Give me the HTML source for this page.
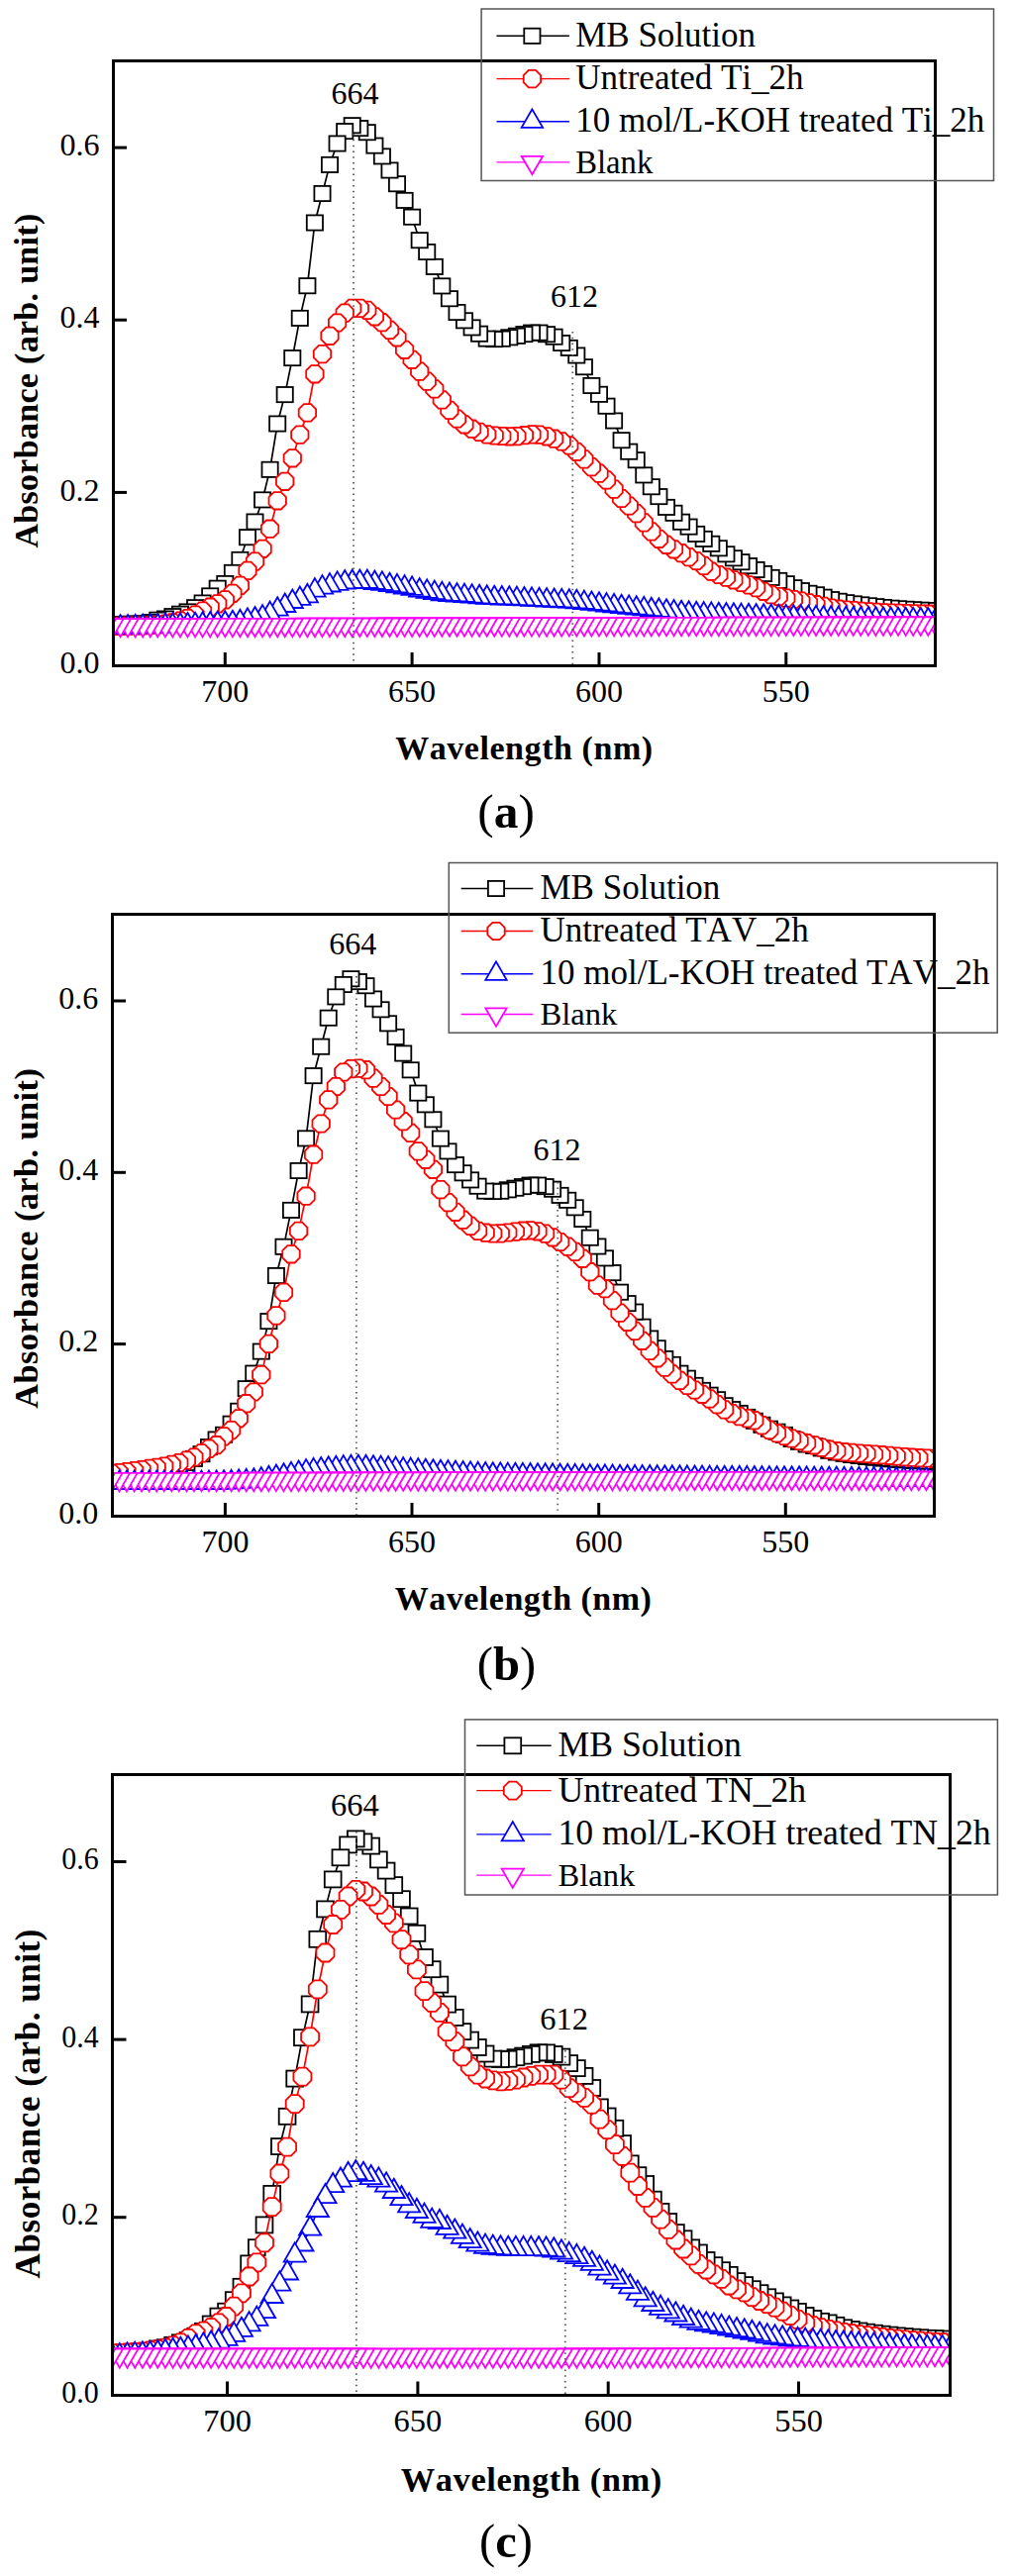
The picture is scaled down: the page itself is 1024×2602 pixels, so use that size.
<!DOCTYPE html>
<html><head><meta charset="utf-8"><title>Absorbance spectra</title>
<style>html,body{margin:0;padding:0;background:#fff;width:1024px;height:2602px;overflow:hidden}svg{display:block;font-family:"Liberation Serif",serif}text{font-kerning:none;font-feature-settings:"kern" 0,"liga" 0}</style></head>
<body>
<svg width="1024" height="2602" viewBox="0 0 1024 2602" font-family='"Liberation Serif", serif'>
<rect width="1024" height="2602" fill="#fff"/>
<clipPath id="clipa"><rect x="116" y="63" width="827" height="608"/></clipPath>
<g clip-path="url(#clipa)">
<polyline fill="none" stroke="#000000" stroke-width="1.7" points="967.5,617.6 960,617.4 952.4,617.1 944.9,616.8 937.3,616.5 929.8,616.2 922.2,615.8 914.7,615.3 907.1,614.8 899.6,614.2 892,613.5 884.4,612.7 876.9,611.8 869.3,610.9 861.8,609.9 854.2,608.7 846.7,607.3 839.1,605.6 831.6,603.2 824,600.8 816.5,599.3 808.9,596.6 801.4,593.7 793.8,589.7 786.3,586.4 778.7,583.4 771.1,579.5 763.6,575.5 756,571.6 748.5,567.7 740.9,563.8 733.4,559.8 725.8,553.8 718.3,549.3 710.7,544.4 703.2,539.4 695.6,532.1 688.1,527.2 680.5,518.3 673,512.4 665.4,501.6 657.8,491.7 650.3,479.9 642.7,464.7 635.2,456.2 627.6,444.7 620.1,425 612.5,410.2 605,398.3 597.4,389.5 589.9,370.7 582.3,359 574.8,351.4 567.2,346.5 559.6,340.2 552.1,337.7 544.5,336.1 537,336.1 529.4,337.6 521.9,339.3 514.3,340.8 506.8,342.2 499.2,342.6 491.7,342.1 484.1,337.2 476.6,330.9 469,323.8 461.5,315.5 453.9,301.7 446.3,288.9 438.8,269.4 431.2,254.5 423.7,242.7 416.1,219.2 408.6,202.4 401,185.7 393.5,172 385.9,157.9 378.4,147.1 370.8,133.7 363.3,129.6 355.7,126.7 348.2,132.6 340.6,145 333,166.4 325.5,195.5 317.9,225 310.4,288.7 302.8,321.4 295.3,361.6 287.7,398.6 280.2,428 272.6,474.3 265.1,504.9 257.5,527 250,542.7 242.4,565.4 234.9,578.4 227.3,589.5 219.7,594.2 212.2,601.9 204.6,609 197.1,613.7 189.5,617.9 182,620.2 174.4,622.6 166.9,625 159.3,626.2 151.8,628.5 144.2,629.8 136.7,630 129.1,630.2 121.6,630.5 114,630.6 106.4,630.6 98.9,630.6 91.3,630.6"/>
<g fill="#fff" stroke="#000000" stroke-width="1.8" stroke-linejoin="miter">
<rect x="959.4" y="610" width="16.2" height="15.2"/>
<rect x="951.9" y="609.8" width="16.2" height="15.2"/>
<rect x="944.3" y="609.5" width="16.2" height="15.2"/>
<rect x="936.8" y="609.2" width="16.2" height="15.2"/>
<rect x="929.2" y="608.9" width="16.2" height="15.2"/>
<rect x="921.7" y="608.6" width="16.2" height="15.2"/>
<rect x="914.1" y="608.2" width="16.2" height="15.2"/>
<rect x="906.6" y="607.7" width="16.2" height="15.2"/>
<rect x="899" y="607.2" width="16.2" height="15.2"/>
<rect x="891.5" y="606.6" width="16.2" height="15.2"/>
<rect x="883.9" y="605.9" width="16.2" height="15.2"/>
<rect x="876.3" y="605.1" width="16.2" height="15.2"/>
<rect x="868.8" y="604.2" width="16.2" height="15.2"/>
<rect x="861.2" y="603.3" width="16.2" height="15.2"/>
<rect x="853.7" y="602.3" width="16.2" height="15.2"/>
<rect x="846.1" y="601.1" width="16.2" height="15.2"/>
<rect x="838.6" y="599.7" width="16.2" height="15.2"/>
<rect x="831" y="598" width="16.2" height="15.2"/>
<rect x="823.5" y="595.6" width="16.2" height="15.2"/>
<rect x="815.9" y="593.2" width="16.2" height="15.2"/>
<rect x="808.4" y="591.7" width="16.2" height="15.2"/>
<rect x="800.8" y="589" width="16.2" height="15.2"/>
<rect x="793.3" y="586.1" width="16.2" height="15.2"/>
<rect x="785.7" y="582.1" width="16.2" height="15.2"/>
<rect x="778.2" y="578.8" width="16.2" height="15.2"/>
<rect x="770.6" y="575.8" width="16.2" height="15.2"/>
<rect x="763" y="571.9" width="16.2" height="15.2"/>
<rect x="755.5" y="567.9" width="16.2" height="15.2"/>
<rect x="747.9" y="564" width="16.2" height="15.2"/>
<rect x="740.4" y="560.1" width="16.2" height="15.2"/>
<rect x="732.8" y="556.2" width="16.2" height="15.2"/>
<rect x="725.3" y="552.2" width="16.2" height="15.2"/>
<rect x="717.7" y="546.2" width="16.2" height="15.2"/>
<rect x="710.2" y="541.7" width="16.2" height="15.2"/>
<rect x="702.6" y="536.8" width="16.2" height="15.2"/>
<rect x="695.1" y="531.8" width="16.2" height="15.2"/>
<rect x="687.5" y="524.5" width="16.2" height="15.2"/>
<rect x="680" y="519.6" width="16.2" height="15.2"/>
<rect x="672.4" y="510.7" width="16.2" height="15.2"/>
<rect x="664.9" y="504.8" width="16.2" height="15.2"/>
<rect x="657.3" y="494" width="16.2" height="15.2"/>
<rect x="649.7" y="484.1" width="16.2" height="15.2"/>
<rect x="642.2" y="472.3" width="16.2" height="15.2"/>
<rect x="634.6" y="457.1" width="16.2" height="15.2"/>
<rect x="627.1" y="448.6" width="16.2" height="15.2"/>
<rect x="619.5" y="437.1" width="16.2" height="15.2"/>
<rect x="612" y="417.4" width="16.2" height="15.2"/>
<rect x="604.4" y="402.6" width="16.2" height="15.2"/>
<rect x="596.9" y="390.7" width="16.2" height="15.2"/>
<rect x="589.3" y="381.9" width="16.2" height="15.2"/>
<rect x="581.8" y="363.1" width="16.2" height="15.2"/>
<rect x="574.2" y="351.4" width="16.2" height="15.2"/>
<rect x="566.7" y="343.8" width="16.2" height="15.2"/>
<rect x="559.1" y="338.9" width="16.2" height="15.2"/>
<rect x="551.5" y="332.6" width="16.2" height="15.2"/>
<rect x="544" y="330.1" width="16.2" height="15.2"/>
<rect x="536.4" y="328.5" width="16.2" height="15.2"/>
<rect x="528.9" y="328.5" width="16.2" height="15.2"/>
<rect x="521.3" y="330" width="16.2" height="15.2"/>
<rect x="513.8" y="331.7" width="16.2" height="15.2"/>
<rect x="506.2" y="333.2" width="16.2" height="15.2"/>
<rect x="498.7" y="334.6" width="16.2" height="15.2"/>
<rect x="491.1" y="335" width="16.2" height="15.2"/>
<rect x="483.6" y="334.5" width="16.2" height="15.2"/>
<rect x="476" y="329.6" width="16.2" height="15.2"/>
<rect x="468.5" y="323.3" width="16.2" height="15.2"/>
<rect x="460.9" y="316.2" width="16.2" height="15.2"/>
<rect x="453.4" y="307.9" width="16.2" height="15.2"/>
<rect x="445.8" y="294.1" width="16.2" height="15.2"/>
<rect x="438.2" y="281.3" width="16.2" height="15.2"/>
<rect x="430.7" y="261.8" width="16.2" height="15.2"/>
<rect x="423.1" y="246.9" width="16.2" height="15.2"/>
<rect x="415.6" y="235.1" width="16.2" height="15.2"/>
<rect x="408" y="211.6" width="16.2" height="15.2"/>
<rect x="400.5" y="194.8" width="16.2" height="15.2"/>
<rect x="392.9" y="178.1" width="16.2" height="15.2"/>
<rect x="385.4" y="164.4" width="16.2" height="15.2"/>
<rect x="377.8" y="150.3" width="16.2" height="15.2"/>
<rect x="370.3" y="139.5" width="16.2" height="15.2"/>
<rect x="362.7" y="126.1" width="16.2" height="15.2"/>
<rect x="355.2" y="122" width="16.2" height="15.2"/>
<rect x="347.6" y="119.1" width="16.2" height="15.2"/>
<rect x="340.1" y="125" width="16.2" height="15.2"/>
<rect x="332.5" y="137.4" width="16.2" height="15.2"/>
<rect x="324.9" y="158.8" width="16.2" height="15.2"/>
<rect x="317.4" y="187.9" width="16.2" height="15.2"/>
<rect x="309.8" y="217.4" width="16.2" height="15.2"/>
<rect x="302.3" y="281.1" width="16.2" height="15.2"/>
<rect x="294.7" y="313.8" width="16.2" height="15.2"/>
<rect x="287.2" y="354" width="16.2" height="15.2"/>
<rect x="279.6" y="391" width="16.2" height="15.2"/>
<rect x="272.1" y="420.4" width="16.2" height="15.2"/>
<rect x="264.5" y="466.7" width="16.2" height="15.2"/>
<rect x="257" y="497.3" width="16.2" height="15.2"/>
<rect x="249.4" y="519.4" width="16.2" height="15.2"/>
<rect x="241.9" y="535.1" width="16.2" height="15.2"/>
<rect x="234.3" y="557.8" width="16.2" height="15.2"/>
<rect x="226.8" y="570.8" width="16.2" height="15.2"/>
<rect x="219.2" y="581.9" width="16.2" height="15.2"/>
<rect x="211.6" y="586.6" width="16.2" height="15.2"/>
<rect x="204.1" y="594.3" width="16.2" height="15.2"/>
<rect x="196.5" y="601.4" width="16.2" height="15.2"/>
<rect x="189" y="606.1" width="16.2" height="15.2"/>
<rect x="181.4" y="610.3" width="16.2" height="15.2"/>
<rect x="173.9" y="612.6" width="16.2" height="15.2"/>
<rect x="166.3" y="615" width="16.2" height="15.2"/>
<rect x="158.8" y="617.4" width="16.2" height="15.2"/>
<rect x="151.2" y="618.6" width="16.2" height="15.2"/>
<rect x="143.7" y="620.9" width="16.2" height="15.2"/>
<rect x="136.1" y="622.2" width="16.2" height="15.2"/>
<rect x="128.6" y="622.4" width="16.2" height="15.2"/>
<rect x="121" y="622.6" width="16.2" height="15.2"/>
<rect x="113.5" y="622.9" width="16.2" height="15.2"/>
<rect x="105.9" y="623" width="16.2" height="15.2"/>
<rect x="98.3" y="623" width="16.2" height="15.2"/>
<rect x="90.8" y="623" width="16.2" height="15.2"/>
<rect x="83.2" y="623" width="16.2" height="15.2"/>
</g>
<polyline fill="none" stroke="#ff0000" stroke-width="1.7" points="967.5,620.6 960,620.5 952.4,620.4 944.9,620.3 937.3,620.2 929.8,620 922.2,619.8 914.7,619.6 907.1,619.3 899.6,619.1 892,618.8 884.4,618.4 876.9,617.9 869.3,617.3 861.8,616.6 854.2,616 846.7,615.2 839.1,614 831.6,612.4 824,610.7 816.5,608.9 808.9,607.1 801.4,605.5 793.8,604.1 786.3,602.5 778.7,600.6 771.1,597.3 763.6,593.6 756,590.9 748.5,588.4 740.9,585.8 733.4,583.2 725.8,580.5 718.3,577.2 710.7,571.4 703.2,566.5 695.6,562.6 688.1,558.7 680.5,554.8 673,550.3 665.4,544.3 657.8,536.9 650.3,527.9 642.7,518.6 635.2,511 627.6,503.5 620.1,494.1 612.5,484.9 605,478.1 597.4,471.6 589.9,463.9 582.3,456.3 574.8,449.9 567.2,445.9 559.6,443.2 552.1,440.8 544.5,439.1 537,438.9 529.4,439.7 521.9,440.6 514.3,440.8 506.8,440.5 499.2,440 491.7,438.9 484.1,436.4 476.6,433.2 469,428.8 461.5,423 453.9,414.4 446.3,403.9 438.8,392.9 431.2,385.1 423.7,375.1 416.1,363.3 408.6,353.3 401,340.8 393.5,333.4 385.9,325.7 378.4,319.8 370.8,313.4 363.3,311.4 355.7,311.4 348.2,316.1 340.6,326 333,339.3 325.5,357.6 317.9,377.8 310.4,416.9 302.8,439.1 295.3,462.8 287.7,486.3 280.2,505.8 272.6,534.2 265.1,554.3 257.5,567.1 250,576.4 242.4,591.4 234.9,599.3 227.3,605.9 219.7,609.8 212.2,613.2 204.6,617.1 197.1,621 189.5,624.5 182,627.1 174.4,628.9 166.9,630 159.3,631 151.8,631.5 144.2,631.8 136.7,632 129.1,632.2 121.6,632.3 114,632.4 106.4,632.4 98.9,632.4 91.3,632.4"/>
<g fill="#fff" stroke="#ff0000" stroke-width="1.8" stroke-linejoin="miter">
<polygon points="976.2,624.2 971.1,629.3 963.9,629.3 958.8,624.2 958.8,617 963.9,611.9 971.1,611.9 976.2,617"/>
<polygon points="968.7,624.1 963.6,629.2 956.4,629.2 951.3,624.1 951.3,616.9 956.4,611.8 963.6,611.8 968.7,616.9"/>
<polygon points="961.1,624 956,629.1 948.8,629.1 943.7,624 943.7,616.8 948.8,611.7 956,611.7 961.1,616.8"/>
<polygon points="953.6,623.9 948.5,629 941.3,629 936.2,623.9 936.2,616.7 941.3,611.6 948.5,611.6 953.6,616.7"/>
<polygon points="946,623.8 940.9,628.9 933.7,628.9 928.6,623.8 928.6,616.6 933.7,611.5 940.9,611.5 946,616.6"/>
<polygon points="938.5,623.6 933.4,628.7 926.2,628.7 921.1,623.6 921.1,616.4 926.2,611.3 933.4,611.3 938.5,616.4"/>
<polygon points="930.9,623.4 925.8,628.5 918.6,628.5 913.5,623.4 913.5,616.2 918.6,611.1 925.8,611.1 930.9,616.2"/>
<polygon points="923.4,623.2 918.3,628.3 911.1,628.3 906,623.2 906,616 911.1,610.9 918.3,610.9 923.4,616"/>
<polygon points="915.8,622.9 910.7,628 903.5,628 898.4,622.9 898.4,615.7 903.5,610.6 910.7,610.6 915.8,615.7"/>
<polygon points="908.3,622.7 903.2,627.8 895.9,627.8 890.9,622.7 890.9,615.5 895.9,610.4 903.2,610.4 908.3,615.5"/>
<polygon points="900.7,622.4 895.6,627.5 888.4,627.5 883.3,622.4 883.3,615.2 888.4,610.1 895.6,610.1 900.7,615.2"/>
<polygon points="893.1,622 888,627.1 880.8,627.1 875.7,622 875.7,614.8 880.8,609.7 888,609.7 893.1,614.8"/>
<polygon points="885.6,621.5 880.5,626.6 873.3,626.6 868.2,621.5 868.2,614.3 873.3,609.2 880.5,609.2 885.6,614.3"/>
<polygon points="878,620.9 872.9,626 865.7,626 860.6,620.9 860.6,613.7 865.7,608.6 872.9,608.6 878,613.7"/>
<polygon points="870.5,620.2 865.4,625.3 858.2,625.3 853.1,620.2 853.1,613 858.2,607.9 865.4,607.9 870.5,613"/>
<polygon points="862.9,619.6 857.8,624.7 850.6,624.7 845.5,619.6 845.5,612.4 850.6,607.3 857.8,607.3 862.9,612.4"/>
<polygon points="855.4,618.8 850.3,623.9 843.1,623.9 838,618.8 838,611.6 843.1,606.5 850.3,606.5 855.4,611.6"/>
<polygon points="847.8,617.6 842.7,622.7 835.5,622.7 830.4,617.6 830.4,610.4 835.5,605.3 842.7,605.3 847.8,610.4"/>
<polygon points="840.3,616 835.2,621.1 828,621.1 822.9,616 822.9,608.8 828,603.7 835.2,603.7 840.3,608.8"/>
<polygon points="832.7,614.3 827.6,619.4 820.4,619.4 815.3,614.3 815.3,607.1 820.4,602 827.6,602 832.7,607.1"/>
<polygon points="825.2,612.5 820.1,617.6 812.9,617.6 807.8,612.5 807.8,605.3 812.9,600.2 820.1,600.2 825.2,605.3"/>
<polygon points="817.6,610.7 812.5,615.8 805.3,615.8 800.2,610.7 800.2,603.5 805.3,598.4 812.5,598.4 817.6,603.5"/>
<polygon points="810.1,609.1 805,614.2 797.8,614.2 792.7,609.1 792.7,601.9 797.8,596.8 805,596.8 810.1,601.9"/>
<polygon points="802.5,607.7 797.4,612.8 790.2,612.8 785.1,607.7 785.1,600.5 790.2,595.4 797.4,595.4 802.5,600.5"/>
<polygon points="795,606.1 789.9,611.2 782.6,611.2 777.6,606.1 777.6,598.9 782.6,593.8 789.9,593.8 795,598.9"/>
<polygon points="787.4,604.2 782.3,609.3 775.1,609.3 770,604.2 770,597 775.1,591.9 782.3,591.9 787.4,597"/>
<polygon points="779.8,600.9 774.7,606 767.5,606 762.4,600.9 762.4,593.7 767.5,588.6 774.7,588.6 779.8,593.7"/>
<polygon points="772.3,597.2 767.2,602.3 760,602.3 754.9,597.2 754.9,590 760,584.9 767.2,584.9 772.3,590"/>
<polygon points="764.7,594.5 759.6,599.6 752.4,599.6 747.3,594.5 747.3,587.3 752.4,582.2 759.6,582.2 764.7,587.3"/>
<polygon points="757.2,592 752.1,597.1 744.9,597.1 739.8,592 739.8,584.8 744.9,579.7 752.1,579.7 757.2,584.8"/>
<polygon points="749.6,589.4 744.5,594.5 737.3,594.5 732.2,589.4 732.2,582.2 737.3,577.1 744.5,577.1 749.6,582.2"/>
<polygon points="742.1,586.8 737,591.9 729.8,591.9 724.7,586.8 724.7,579.6 729.8,574.5 737,574.5 742.1,579.6"/>
<polygon points="734.5,584.1 729.4,589.2 722.2,589.2 717.1,584.1 717.1,576.9 722.2,571.8 729.4,571.8 734.5,576.9"/>
<polygon points="727,580.9 721.9,585.9 714.7,585.9 709.6,580.9 709.6,573.6 714.7,568.5 721.9,568.5 727,573.6"/>
<polygon points="719.4,575 714.3,580.1 707.1,580.1 702,575 702,567.7 707.1,562.7 714.3,562.7 719.4,567.7"/>
<polygon points="711.9,570.1 706.8,575.2 699.6,575.2 694.5,570.1 694.5,562.9 699.6,557.8 706.8,557.8 711.9,562.9"/>
<polygon points="704.3,566.2 699.2,571.3 692,571.3 686.9,566.2 686.9,559 692,553.9 699.2,553.9 704.3,559"/>
<polygon points="696.8,562.3 691.7,567.4 684.5,567.4 679.4,562.3 679.4,555.1 684.5,550 691.7,550 696.8,555.1"/>
<polygon points="689.2,558.4 684.1,563.5 676.9,563.5 671.8,558.4 671.8,551.2 676.9,546.1 684.1,546.1 689.2,551.2"/>
<polygon points="681.7,553.9 676.6,559 669.3,559 664.3,553.9 664.3,546.7 669.3,541.6 676.6,541.6 681.7,546.7"/>
<polygon points="674.1,547.9 669,553 661.8,553 656.7,547.9 656.7,540.7 661.8,535.6 669,535.6 674.1,540.7"/>
<polygon points="666.5,540.5 661.4,545.6 654.2,545.6 649.1,540.5 649.1,533.3 654.2,528.2 661.4,528.2 666.5,533.3"/>
<polygon points="659,531.5 653.9,536.6 646.7,536.6 641.6,531.5 641.6,524.3 646.7,519.2 653.9,519.2 659,524.3"/>
<polygon points="651.4,522.2 646.3,527.3 639.1,527.3 634,522.2 634,515 639.1,509.9 646.3,509.9 651.4,515"/>
<polygon points="643.9,514.6 638.8,519.7 631.6,519.7 626.5,514.6 626.5,507.4 631.6,502.3 638.8,502.3 643.9,507.4"/>
<polygon points="636.3,507.1 631.2,512.2 624,512.2 618.9,507.1 618.9,499.9 624,494.8 631.2,494.8 636.3,499.9"/>
<polygon points="628.8,497.7 623.7,502.8 616.5,502.8 611.4,497.7 611.4,490.5 616.5,485.4 623.7,485.4 628.8,490.5"/>
<polygon points="621.2,488.6 616.1,493.6 608.9,493.6 603.8,488.6 603.8,481.3 608.9,476.2 616.1,476.2 621.2,481.3"/>
<polygon points="613.7,481.7 608.6,486.8 601.4,486.8 596.3,481.7 596.3,474.5 601.4,469.4 608.6,469.4 613.7,474.5"/>
<polygon points="606.1,475.2 601,480.3 593.8,480.3 588.7,475.2 588.7,468 593.8,462.9 601,462.9 606.1,468"/>
<polygon points="598.6,467.5 593.5,472.6 586.3,472.6 581.2,467.5 581.2,460.3 586.3,455.2 593.5,455.2 598.6,460.3"/>
<polygon points="591,459.9 585.9,465 578.7,465 573.6,459.9 573.6,452.7 578.7,447.6 585.9,447.6 591,452.7"/>
<polygon points="583.5,453.5 578.4,458.6 571.2,458.6 566.1,453.5 566.1,446.3 571.2,441.2 578.4,441.2 583.5,446.3"/>
<polygon points="575.9,449.5 570.8,454.6 563.6,454.6 558.5,449.5 558.5,442.3 563.6,437.2 570.8,437.2 575.9,442.3"/>
<polygon points="568.3,446.8 563.3,451.9 556,451.9 550.9,446.8 550.9,439.5 556,434.5 563.3,434.5 568.3,439.5"/>
<polygon points="560.8,444.4 555.7,449.5 548.5,449.5 543.4,444.4 543.4,437.2 548.5,432.1 555.7,432.1 560.8,437.2"/>
<polygon points="553.2,442.7 548.1,447.8 540.9,447.8 535.8,442.7 535.8,435.5 540.9,430.4 548.1,430.4 553.2,435.5"/>
<polygon points="545.7,442.5 540.6,447.6 533.4,447.6 528.3,442.5 528.3,435.3 533.4,430.2 540.6,430.2 545.7,435.3"/>
<polygon points="538.1,443.3 533,448.4 525.8,448.4 520.7,443.3 520.7,436.1 525.8,431 533,431 538.1,436.1"/>
<polygon points="530.6,444.2 525.5,449.3 518.3,449.3 513.2,444.2 513.2,437 518.3,431.9 525.5,431.9 530.6,437"/>
<polygon points="523,444.4 517.9,449.5 510.7,449.5 505.6,444.4 505.6,437.2 510.7,432.1 517.9,432.1 523,437.2"/>
<polygon points="515.5,444.1 510.4,449.2 503.2,449.2 498.1,444.1 498.1,436.9 503.2,431.8 510.4,431.8 515.5,436.9"/>
<polygon points="507.9,443.6 502.8,448.7 495.6,448.7 490.5,443.6 490.5,436.4 495.6,431.3 502.8,431.3 507.9,436.4"/>
<polygon points="500.4,442.5 495.3,447.6 488.1,447.6 483,442.5 483,435.3 488.1,430.2 495.3,430.2 500.4,435.3"/>
<polygon points="492.8,440 487.7,445.1 480.5,445.1 475.4,440 475.4,432.8 480.5,427.7 487.7,427.7 492.8,432.8"/>
<polygon points="485.3,436.8 480.2,441.9 473,441.9 467.9,436.8 467.9,429.6 473,424.5 480.2,424.5 485.3,429.6"/>
<polygon points="477.7,432.4 472.6,437.5 465.4,437.5 460.3,432.4 460.3,425.2 465.4,420.1 472.6,420.1 477.7,425.2"/>
<polygon points="470.2,426.6 465.1,431.7 457.9,431.7 452.8,426.6 452.8,419.4 457.9,414.3 465.1,414.3 470.2,419.4"/>
<polygon points="462.6,418 457.5,423.1 450.3,423.1 445.2,418 445.2,410.8 450.3,405.7 457.5,405.7 462.6,410.8"/>
<polygon points="455,407.5 450,412.6 442.7,412.6 437.6,407.5 437.6,400.3 442.7,395.2 450,395.2 455,400.3"/>
<polygon points="447.5,396.5 442.4,401.6 435.2,401.6 430.1,396.5 430.1,389.3 435.2,384.2 442.4,384.2 447.5,389.3"/>
<polygon points="439.9,388.7 434.8,393.8 427.6,393.8 422.5,388.7 422.5,381.5 427.6,376.4 434.8,376.4 439.9,381.5"/>
<polygon points="432.4,378.7 427.3,383.8 420.1,383.8 415,378.7 415,371.5 420.1,366.4 427.3,366.4 432.4,371.5"/>
<polygon points="424.8,366.9 419.7,372 412.5,372 407.4,366.9 407.4,359.7 412.5,354.6 419.7,354.6 424.8,359.7"/>
<polygon points="417.3,356.9 412.2,362 405,362 399.9,356.9 399.9,349.7 405,344.6 412.2,344.6 417.3,349.7"/>
<polygon points="409.7,344.4 404.6,349.5 397.4,349.5 392.3,344.4 392.3,337.2 397.4,332.1 404.6,332.1 409.7,337.2"/>
<polygon points="402.2,337 397.1,342.1 389.9,342.1 384.8,337 384.8,329.8 389.9,324.7 397.1,324.7 402.2,329.8"/>
<polygon points="394.6,329.3 389.5,334.4 382.3,334.4 377.2,329.3 377.2,322.1 382.3,317 389.5,317 394.6,322.1"/>
<polygon points="387.1,323.4 382,328.5 374.8,328.5 369.7,323.4 369.7,316.2 374.8,311.1 382,311.1 387.1,316.2"/>
<polygon points="379.5,317 374.4,322.1 367.2,322.1 362.1,317 362.1,309.8 367.2,304.7 374.4,304.7 379.5,309.8"/>
<polygon points="372,315 366.9,320.1 359.7,320.1 354.6,315 354.6,307.8 359.7,302.7 366.9,302.7 372,307.8"/>
<polygon points="364.4,315 359.3,320.1 352.1,320.1 347,315 347,307.8 352.1,302.7 359.3,302.7 364.4,307.8"/>
<polygon points="356.9,319.7 351.8,324.8 344.6,324.8 339.5,319.7 339.5,312.5 344.6,307.4 351.8,307.4 356.9,312.5"/>
<polygon points="349.3,329.6 344.2,334.7 337,334.7 331.9,329.6 331.9,322.4 337,317.3 344.2,317.3 349.3,322.4"/>
<polygon points="341.7,342.9 336.7,348 329.4,348 324.3,342.9 324.3,335.7 329.4,330.6 336.7,330.6 341.7,335.7"/>
<polygon points="334.2,361.2 329.1,366.3 321.9,366.3 316.8,361.2 316.8,354 321.9,348.9 329.1,348.9 334.2,354"/>
<polygon points="326.6,381.4 321.5,386.5 314.3,386.5 309.2,381.4 309.2,374.2 314.3,369.1 321.5,369.1 326.6,374.2"/>
<polygon points="319.1,420.5 314,425.6 306.8,425.6 301.7,420.5 301.7,413.3 306.8,408.2 314,408.2 319.1,413.3"/>
<polygon points="311.5,442.7 306.4,447.8 299.2,447.8 294.1,442.7 294.1,435.5 299.2,430.4 306.4,430.4 311.5,435.5"/>
<polygon points="304,466.4 298.9,471.5 291.7,471.5 286.6,466.4 286.6,459.2 291.7,454.1 298.9,454.1 304,459.2"/>
<polygon points="296.4,489.9 291.3,495 284.1,495 279,489.9 279,482.7 284.1,477.6 291.3,477.6 296.4,482.7"/>
<polygon points="288.9,509.4 283.8,514.5 276.6,514.5 271.5,509.4 271.5,502.2 276.6,497.1 283.8,497.1 288.9,502.2"/>
<polygon points="281.3,537.8 276.2,542.9 269,542.9 263.9,537.8 263.9,530.6 269,525.5 276.2,525.5 281.3,530.6"/>
<polygon points="273.8,558 268.7,563 261.5,563 256.4,558 256.4,550.7 261.5,545.6 268.7,545.6 273.8,550.7"/>
<polygon points="266.2,570.7 261.1,575.8 253.9,575.8 248.8,570.7 248.8,563.5 253.9,558.4 261.1,558.4 266.2,563.5"/>
<polygon points="258.7,580 253.6,585.1 246.4,585.1 241.3,580 241.3,572.8 246.4,567.7 253.6,567.7 258.7,572.8"/>
<polygon points="251.1,595 246,600.1 238.8,600.1 233.7,595 233.7,587.8 238.8,582.7 246,582.7 251.1,587.8"/>
<polygon points="243.6,602.9 238.5,608 231.2,608 226.2,602.9 226.2,595.7 231.2,590.6 238.5,590.6 243.6,595.7"/>
<polygon points="236,609.5 230.9,614.6 223.7,614.6 218.6,609.5 218.6,602.3 223.7,597.2 230.9,597.2 236,602.3"/>
<polygon points="228.4,613.4 223.4,618.5 216.1,618.5 211,613.4 211,606.2 216.1,601.1 223.4,601.1 228.4,606.2"/>
<polygon points="220.9,616.8 215.8,621.9 208.6,621.9 203.5,616.8 203.5,609.6 208.6,604.5 215.8,604.5 220.9,609.6"/>
<polygon points="213.3,620.7 208.2,625.8 201,625.8 195.9,620.7 195.9,613.5 201,608.4 208.2,608.4 213.3,613.5"/>
<polygon points="205.8,624.7 200.7,629.7 193.5,629.7 188.4,624.7 188.4,617.4 193.5,612.3 200.7,612.3 205.8,617.4"/>
<polygon points="198.2,628.1 193.1,633.2 185.9,633.2 180.8,628.1 180.8,620.9 185.9,615.8 193.1,615.8 198.2,620.9"/>
<polygon points="190.7,630.7 185.6,635.8 178.4,635.8 173.3,630.7 173.3,623.5 178.4,618.4 185.6,618.4 190.7,623.5"/>
<polygon points="183.1,632.5 178,637.6 170.8,637.6 165.7,632.5 165.7,625.3 170.8,620.2 178,620.2 183.1,625.3"/>
<polygon points="175.6,633.6 170.5,638.7 163.3,638.7 158.2,633.6 158.2,626.4 163.3,621.3 170.5,621.3 175.6,626.4"/>
<polygon points="168,634.6 162.9,639.7 155.7,639.7 150.6,634.6 150.6,627.4 155.7,622.3 162.9,622.3 168,627.4"/>
<polygon points="160.5,635.1 155.4,640.2 148.2,640.2 143.1,635.1 143.1,627.9 148.2,622.8 155.4,622.8 160.5,627.9"/>
<polygon points="152.9,635.4 147.8,640.5 140.6,640.5 135.5,635.4 135.5,628.2 140.6,623.1 147.8,623.1 152.9,628.2"/>
<polygon points="145.4,635.6 140.3,640.7 133.1,640.7 128,635.6 128,628.4 133.1,623.3 140.3,623.3 145.4,628.4"/>
<polygon points="137.8,635.8 132.7,640.9 125.5,640.9 120.4,635.8 120.4,628.6 125.5,623.5 132.7,623.5 137.8,628.6"/>
<polygon points="130.3,635.9 125.2,641 117.9,641 112.9,635.9 112.9,628.7 117.9,623.6 125.2,623.6 130.3,628.7"/>
<polygon points="122.7,636 117.6,641.1 110.4,641.1 105.3,636 105.3,628.8 110.4,623.7 117.6,623.7 122.7,628.8"/>
<polygon points="115.1,636 110,641.1 102.8,641.1 97.7,636 97.7,628.8 102.8,623.7 110,623.7 115.1,628.8"/>
<polygon points="107.6,636 102.5,641.1 95.3,641.1 90.2,636 90.2,628.8 95.3,623.7 102.5,623.7 107.6,628.8"/>
<polygon points="100,636 94.9,641.1 87.7,641.1 82.6,636 82.6,628.8 87.7,623.7 94.9,623.7 100,628.8"/>
</g>
<polyline fill="none" stroke="#0000ff" stroke-width="1.7" points="967.5,626.3 960,626.3 952.4,626.3 944.9,626.3 937.3,626.3 929.8,626.2 922.2,626.2 914.7,626.1 907.1,626 899.6,625.9 892,625.8 884.4,625.7 876.9,625.5 869.3,625.4 861.8,625.3 854.2,625.1 846.7,624.9 839.1,624.7 831.6,624.4 824,624.2 816.5,623.9 808.9,623.7 801.4,623.5 793.8,623.2 786.3,623 778.7,622.8 771.1,622.6 763.6,622.3 756,622.1 748.5,621.9 740.9,621.6 733.4,621.3 725.8,621.1 718.3,620.7 710.7,620.4 703.2,620 695.6,619.6 688.1,619 680.5,618.3 673,617.5 665.4,616.7 657.8,616 650.3,615.2 642.7,614.5 635.2,613.7 627.6,613 620.1,612.2 612.5,611.4 605,610.6 597.4,609.8 589.9,608.9 582.3,608.1 574.8,607.6 567.2,607.1 559.6,606.8 552.1,606.4 544.5,606.1 537,605.7 529.4,605.3 521.9,604.9 514.3,604.6 506.8,604.3 499.2,604 491.7,603.6 484.1,603.1 476.6,602.5 469,601.9 461.5,601.4 453.9,600.8 446.3,600.1 438.8,598.9 431.2,597.7 423.7,596.4 416.1,594.7 408.6,593.4 401,592.2 393.5,591 385.9,589.7 378.4,588.8 370.8,587.8 363.3,587.8 355.7,587.8 348.2,588.3 340.6,589.7 333,591.4 325.5,593.4 317.9,596.4 310.4,602.2 302.8,604.8 295.3,607.8 287.7,611.8 280.2,615.6 272.6,619.9 265.1,623.4 257.5,625.3 250,626.7 242.4,628 234.9,629 227.3,629.5 219.7,629.9 212.2,630.3 204.6,630.6 197.1,631 189.5,631.3 182,631.6 174.4,631.9 166.9,632.1 159.3,632.4 151.8,632.6 144.2,632.9 136.7,633.2 129.1,633.3 121.6,633.4 114,633.4 106.4,633.4 98.9,633.4 91.3,633.4"/>
<g fill="#fff" stroke="#0000ff" stroke-width="1.8" stroke-linejoin="miter">
<polygon points="967.5,614 978.2,632.4 956.9,632.4"/>
<polygon points="960,614 970.6,632.4 949.3,632.4"/>
<polygon points="952.4,614 963.1,632.4 941.8,632.4"/>
<polygon points="944.9,614 955.5,632.4 934.2,632.4"/>
<polygon points="937.3,614 948,632.4 926.7,632.4"/>
<polygon points="929.8,613.9 940.4,632.4 919.1,632.4"/>
<polygon points="922.2,613.9 932.9,632.3 911.6,632.3"/>
<polygon points="914.7,613.8 925.3,632.2 904,632.2"/>
<polygon points="907.1,613.7 917.8,632.1 896.5,632.1"/>
<polygon points="899.6,613.6 910.2,632 888.9,632"/>
<polygon points="892,613.5 902.7,631.9 881.3,631.9"/>
<polygon points="884.4,613.4 895.1,631.8 873.8,631.8"/>
<polygon points="876.9,613.2 887.5,631.7 866.2,631.7"/>
<polygon points="869.3,613.1 880,631.6 858.7,631.6"/>
<polygon points="861.8,613 872.4,631.4 851.1,631.4"/>
<polygon points="854.2,612.8 864.9,631.2 843.6,631.2"/>
<polygon points="846.7,612.6 857.3,631 836,631"/>
<polygon points="839.1,612.4 849.8,630.8 828.5,630.8"/>
<polygon points="831.6,612.1 842.2,630.6 820.9,630.6"/>
<polygon points="824,611.9 834.7,630.3 813.4,630.3"/>
<polygon points="816.5,611.6 827.1,630.1 805.8,630.1"/>
<polygon points="808.9,611.4 819.6,629.8 798.3,629.8"/>
<polygon points="801.4,611.2 812,629.6 790.7,629.6"/>
<polygon points="793.8,610.9 804.5,629.4 783.2,629.4"/>
<polygon points="786.3,610.7 796.9,629.2 775.6,629.2"/>
<polygon points="778.7,610.5 789.4,628.9 768,628.9"/>
<polygon points="771.1,610.3 781.8,628.7 760.5,628.7"/>
<polygon points="763.6,610 774.2,628.5 752.9,628.5"/>
<polygon points="756,609.8 766.7,628.3 745.4,628.3"/>
<polygon points="748.5,609.6 759.1,628 737.8,628"/>
<polygon points="740.9,609.3 751.6,627.8 730.3,627.8"/>
<polygon points="733.4,609 744,627.5 722.7,627.5"/>
<polygon points="725.8,608.8 736.5,627.2 715.2,627.2"/>
<polygon points="718.3,608.4 728.9,626.9 707.6,626.9"/>
<polygon points="710.7,608.1 721.4,626.5 700.1,626.5"/>
<polygon points="703.2,607.7 713.8,626.2 692.5,626.2"/>
<polygon points="695.6,607.3 706.3,625.7 685,625.7"/>
<polygon points="688.1,606.7 698.7,625.1 677.4,625.1"/>
<polygon points="680.5,606 691.2,624.4 669.9,624.4"/>
<polygon points="673,605.2 683.6,623.6 662.3,623.6"/>
<polygon points="665.4,604.4 676,622.8 654.7,622.8"/>
<polygon points="657.8,603.7 668.5,622.1 647.2,622.1"/>
<polygon points="650.3,602.9 660.9,621.4 639.6,621.4"/>
<polygon points="642.7,602.2 653.4,620.6 632.1,620.6"/>
<polygon points="635.2,601.4 645.8,619.9 624.5,619.9"/>
<polygon points="627.6,600.7 638.3,619.1 617,619.1"/>
<polygon points="620.1,599.9 630.7,618.3 609.4,618.3"/>
<polygon points="612.5,599.1 623.2,617.5 601.9,617.5"/>
<polygon points="605,598.3 615.6,616.7 594.3,616.7"/>
<polygon points="597.4,597.5 608.1,615.9 586.8,615.9"/>
<polygon points="589.9,596.6 600.5,615 579.2,615"/>
<polygon points="582.3,595.8 593,614.3 571.7,614.3"/>
<polygon points="574.8,595.3 585.4,613.7 564.1,613.7"/>
<polygon points="567.2,594.8 577.9,613.3 556.6,613.3"/>
<polygon points="559.6,594.5 570.3,612.9 549,612.9"/>
<polygon points="552.1,594.1 562.7,612.6 541.4,612.6"/>
<polygon points="544.5,593.8 555.2,612.2 533.9,612.2"/>
<polygon points="537,593.4 547.6,611.8 526.3,611.8"/>
<polygon points="529.4,593 540.1,611.4 518.8,611.4"/>
<polygon points="521.9,592.6 532.5,611.1 511.2,611.1"/>
<polygon points="514.3,592.3 525,610.7 503.7,610.7"/>
<polygon points="506.8,592 517.4,610.5 496.1,610.5"/>
<polygon points="499.2,591.7 509.9,610.1 488.6,610.1"/>
<polygon points="491.7,591.3 502.3,609.8 481,609.8"/>
<polygon points="484.1,590.8 494.8,609.3 473.5,609.3"/>
<polygon points="476.6,590.2 487.2,608.7 465.9,608.7"/>
<polygon points="469,589.6 479.7,608 458.4,608"/>
<polygon points="461.5,589.1 472.1,607.5 450.8,607.5"/>
<polygon points="453.9,588.5 464.6,607 443.2,607"/>
<polygon points="446.3,587.8 457,606.3 435.7,606.3"/>
<polygon points="438.8,586.6 449.4,605.1 428.1,605.1"/>
<polygon points="431.2,585.4 441.9,603.9 420.6,603.9"/>
<polygon points="423.7,584.1 434.3,602.6 413,602.6"/>
<polygon points="416.1,582.4 426.8,600.9 405.5,600.9"/>
<polygon points="408.6,581.1 419.2,599.6 397.9,599.6"/>
<polygon points="401,579.9 411.7,598.4 390.4,598.4"/>
<polygon points="393.5,578.7 404.1,597.2 382.8,597.2"/>
<polygon points="385.9,577.4 396.6,595.8 375.3,595.8"/>
<polygon points="378.4,576.5 389,595 367.7,595"/>
<polygon points="370.8,575.5 381.5,593.9 360.2,593.9"/>
<polygon points="363.3,575.5 373.9,593.9 352.6,593.9"/>
<polygon points="355.7,575.5 366.4,593.9 345.1,593.9"/>
<polygon points="348.2,576 358.8,594.5 337.5,594.5"/>
<polygon points="340.6,577.4 351.3,595.8 329.9,595.8"/>
<polygon points="333,579.1 343.7,597.5 322.4,597.5"/>
<polygon points="325.5,581.1 336.1,599.6 314.8,599.6"/>
<polygon points="317.9,584.1 328.6,602.6 307.3,602.6"/>
<polygon points="310.4,589.9 321,608.4 299.7,608.4"/>
<polygon points="302.8,592.5 313.5,610.9 292.2,610.9"/>
<polygon points="295.3,595.5 305.9,614 284.6,614"/>
<polygon points="287.7,599.5 298.4,618 277.1,618"/>
<polygon points="280.2,603.3 290.8,621.7 269.5,621.7"/>
<polygon points="272.6,607.6 283.3,626 262,626"/>
<polygon points="265.1,611.1 275.7,629.5 254.4,629.5"/>
<polygon points="257.5,613 268.2,631.4 246.9,631.4"/>
<polygon points="250,614.4 260.6,632.9 239.3,632.9"/>
<polygon points="242.4,615.7 253.1,634.2 231.8,634.2"/>
<polygon points="234.9,616.7 245.5,635.1 224.2,635.1"/>
<polygon points="227.3,617.2 238,635.7 216.6,635.7"/>
<polygon points="219.7,617.6 230.4,636.1 209.1,636.1"/>
<polygon points="212.2,618 222.8,636.4 201.5,636.4"/>
<polygon points="204.6,618.3 215.3,636.8 194,636.8"/>
<polygon points="197.1,618.7 207.7,637.1 186.4,637.1"/>
<polygon points="189.5,619 200.2,637.4 178.9,637.4"/>
<polygon points="182,619.3 192.6,637.7 171.3,637.7"/>
<polygon points="174.4,619.6 185.1,638 163.8,638"/>
<polygon points="166.9,619.8 177.5,638.3 156.2,638.3"/>
<polygon points="159.3,620.1 170,638.5 148.7,638.5"/>
<polygon points="151.8,620.3 162.4,638.8 141.1,638.8"/>
<polygon points="144.2,620.6 154.9,639.1 133.6,639.1"/>
<polygon points="136.7,620.9 147.3,639.3 126,639.3"/>
<polygon points="129.1,621 139.8,639.5 118.5,639.5"/>
<polygon points="121.6,621.1 132.2,639.6 110.9,639.6"/>
<polygon points="114,621.1 124.7,639.6 103.3,639.6"/>
<polygon points="106.4,621.1 117.1,639.6 95.8,639.6"/>
<polygon points="98.9,621.1 109.5,639.6 88.2,639.6"/>
<polygon points="91.3,621.1 102,639.6 80.7,639.6"/>
</g>
<polyline fill="none" stroke="#ff00ff" stroke-width="1.7" points="967.5,629.6 960,629.6 952.4,629.6 944.9,629.6 937.3,629.6 929.8,629.6 922.2,629.6 914.7,629.6 907.1,629.6 899.6,629.6 892,629.6 884.4,629.6 876.9,629.6 869.3,629.6 861.8,629.6 854.2,629.6 846.7,629.7 839.1,629.7 831.6,629.7 824,629.7 816.5,629.7 808.9,629.7 801.4,629.7 793.8,629.7 786.3,629.8 778.7,629.8 771.1,629.8 763.6,629.8 756,629.8 748.5,629.8 740.9,629.9 733.4,629.9 725.8,629.9 718.3,629.9 710.7,629.9 703.2,630 695.6,630 688.1,630 680.5,630 673,630 665.4,630 657.8,630.1 650.3,630.1 642.7,630.1 635.2,630.1 627.6,630.1 620.1,630.1 612.5,630.2 605,630.2 597.4,630.2 589.9,630.2 582.3,630.2 574.8,630.2 567.2,630.3 559.6,630.3 552.1,630.3 544.5,630.3 537,630.3 529.4,630.3 521.9,630.4 514.3,630.4 506.8,630.4 499.2,630.4 491.7,630.4 484.1,630.4 476.6,630.5 469,630.5 461.5,630.5 453.9,630.5 446.3,630.5 438.8,630.6 431.2,630.6 423.7,630.6 416.1,630.6 408.6,630.6 401,630.7 393.5,630.7 385.9,630.7 378.4,630.7 370.8,630.7 363.3,630.7 355.7,630.8 348.2,630.8 340.6,630.8 333,630.8 325.5,630.8 317.9,630.9 310.4,630.9 302.8,630.9 295.3,630.9 287.7,630.9 280.2,630.9 272.6,631 265.1,631 257.5,631 250,631 242.4,631 234.9,631 227.3,631 219.7,631.1 212.2,631.1 204.6,631.1 197.1,631.1 189.5,631.1 182,631.1 174.4,631.1 166.9,631.1 159.3,631.1 151.8,631.1 144.2,631.1 136.7,631.1 129.1,631.1 121.6,631.1 114,631.1 106.4,631.1 98.9,631.1 91.3,631.1"/>
<g fill="#fff" stroke="#ff00ff" stroke-width="1.8" stroke-linejoin="miter">
<polygon points="967.5,641.9 978.2,623.4 956.9,623.4"/>
<polygon points="960,641.9 970.6,623.4 949.3,623.4"/>
<polygon points="952.4,641.9 963.1,623.4 941.8,623.4"/>
<polygon points="944.9,641.9 955.5,623.4 934.2,623.4"/>
<polygon points="937.3,641.9 948,623.4 926.7,623.4"/>
<polygon points="929.8,641.9 940.4,623.4 919.1,623.4"/>
<polygon points="922.2,641.9 932.9,623.4 911.6,623.4"/>
<polygon points="914.7,641.9 925.3,623.4 904,623.4"/>
<polygon points="907.1,641.9 917.8,623.4 896.5,623.4"/>
<polygon points="899.6,641.9 910.2,623.4 888.9,623.4"/>
<polygon points="892,641.9 902.7,623.5 881.3,623.5"/>
<polygon points="884.4,641.9 895.1,623.5 873.8,623.5"/>
<polygon points="876.9,641.9 887.5,623.5 866.2,623.5"/>
<polygon points="869.3,641.9 880,623.5 858.7,623.5"/>
<polygon points="861.8,641.9 872.4,623.5 851.1,623.5"/>
<polygon points="854.2,641.9 864.9,623.5 843.6,623.5"/>
<polygon points="846.7,642 857.3,623.5 836,623.5"/>
<polygon points="839.1,642 849.8,623.5 828.5,623.5"/>
<polygon points="831.6,642 842.2,623.5 820.9,623.5"/>
<polygon points="824,642 834.7,623.5 813.4,623.5"/>
<polygon points="816.5,642 827.1,623.6 805.8,623.6"/>
<polygon points="808.9,642 819.6,623.6 798.3,623.6"/>
<polygon points="801.4,642 812,623.6 790.7,623.6"/>
<polygon points="793.8,642 804.5,623.6 783.2,623.6"/>
<polygon points="786.3,642.1 796.9,623.6 775.6,623.6"/>
<polygon points="778.7,642.1 789.4,623.6 768,623.6"/>
<polygon points="771.1,642.1 781.8,623.6 760.5,623.6"/>
<polygon points="763.6,642.1 774.2,623.7 752.9,623.7"/>
<polygon points="756,642.1 766.7,623.7 745.4,623.7"/>
<polygon points="748.5,642.1 759.1,623.7 737.8,623.7"/>
<polygon points="740.9,642.2 751.6,623.7 730.3,623.7"/>
<polygon points="733.4,642.2 744,623.7 722.7,623.7"/>
<polygon points="725.8,642.2 736.5,623.7 715.2,623.7"/>
<polygon points="718.3,642.2 728.9,623.8 707.6,623.8"/>
<polygon points="710.7,642.2 721.4,623.8 700.1,623.8"/>
<polygon points="703.2,642.3 713.8,623.8 692.5,623.8"/>
<polygon points="695.6,642.3 706.3,623.8 685,623.8"/>
<polygon points="688.1,642.3 698.7,623.8 677.4,623.8"/>
<polygon points="680.5,642.3 691.2,623.9 669.9,623.9"/>
<polygon points="673,642.3 683.6,623.9 662.3,623.9"/>
<polygon points="665.4,642.3 676,623.9 654.7,623.9"/>
<polygon points="657.8,642.4 668.5,623.9 647.2,623.9"/>
<polygon points="650.3,642.4 660.9,623.9 639.6,623.9"/>
<polygon points="642.7,642.4 653.4,623.9 632.1,623.9"/>
<polygon points="635.2,642.4 645.8,624 624.5,624"/>
<polygon points="627.6,642.4 638.3,624 617,624"/>
<polygon points="620.1,642.4 630.7,624 609.4,624"/>
<polygon points="612.5,642.5 623.2,624 601.9,624"/>
<polygon points="605,642.5 615.6,624 594.3,624"/>
<polygon points="597.4,642.5 608.1,624.1 586.8,624.1"/>
<polygon points="589.9,642.5 600.5,624.1 579.2,624.1"/>
<polygon points="582.3,642.5 593,624.1 571.7,624.1"/>
<polygon points="574.8,642.5 585.4,624.1 564.1,624.1"/>
<polygon points="567.2,642.6 577.9,624.1 556.6,624.1"/>
<polygon points="559.6,642.6 570.3,624.1 549,624.1"/>
<polygon points="552.1,642.6 562.7,624.1 541.4,624.1"/>
<polygon points="544.5,642.6 555.2,624.2 533.9,624.2"/>
<polygon points="537,642.6 547.6,624.2 526.3,624.2"/>
<polygon points="529.4,642.6 540.1,624.2 518.8,624.2"/>
<polygon points="521.9,642.7 532.5,624.2 511.2,624.2"/>
<polygon points="514.3,642.7 525,624.2 503.7,624.2"/>
<polygon points="506.8,642.7 517.4,624.2 496.1,624.2"/>
<polygon points="499.2,642.7 509.9,624.3 488.6,624.3"/>
<polygon points="491.7,642.7 502.3,624.3 481,624.3"/>
<polygon points="484.1,642.7 494.8,624.3 473.5,624.3"/>
<polygon points="476.6,642.8 487.2,624.3 465.9,624.3"/>
<polygon points="469,642.8 479.7,624.3 458.4,624.3"/>
<polygon points="461.5,642.8 472.1,624.3 450.8,624.3"/>
<polygon points="453.9,642.8 464.6,624.4 443.2,624.4"/>
<polygon points="446.3,642.8 457,624.4 435.7,624.4"/>
<polygon points="438.8,642.9 449.4,624.4 428.1,624.4"/>
<polygon points="431.2,642.9 441.9,624.4 420.6,624.4"/>
<polygon points="423.7,642.9 434.3,624.4 413,624.4"/>
<polygon points="416.1,642.9 426.8,624.5 405.5,624.5"/>
<polygon points="408.6,642.9 419.2,624.5 397.9,624.5"/>
<polygon points="401,643 411.7,624.5 390.4,624.5"/>
<polygon points="393.5,643 404.1,624.5 382.8,624.5"/>
<polygon points="385.9,643 396.6,624.5 375.3,624.5"/>
<polygon points="378.4,643 389,624.6 367.7,624.6"/>
<polygon points="370.8,643 381.5,624.6 360.2,624.6"/>
<polygon points="363.3,643 373.9,624.6 352.6,624.6"/>
<polygon points="355.7,643.1 366.4,624.6 345.1,624.6"/>
<polygon points="348.2,643.1 358.8,624.6 337.5,624.6"/>
<polygon points="340.6,643.1 351.3,624.7 329.9,624.7"/>
<polygon points="333,643.1 343.7,624.7 322.4,624.7"/>
<polygon points="325.5,643.1 336.1,624.7 314.8,624.7"/>
<polygon points="317.9,643.2 328.6,624.7 307.3,624.7"/>
<polygon points="310.4,643.2 321,624.7 299.7,624.7"/>
<polygon points="302.8,643.2 313.5,624.7 292.2,624.7"/>
<polygon points="295.3,643.2 305.9,624.8 284.6,624.8"/>
<polygon points="287.7,643.2 298.4,624.8 277.1,624.8"/>
<polygon points="280.2,643.2 290.8,624.8 269.5,624.8"/>
<polygon points="272.6,643.3 283.3,624.8 262,624.8"/>
<polygon points="265.1,643.3 275.7,624.8 254.4,624.8"/>
<polygon points="257.5,643.3 268.2,624.8 246.9,624.8"/>
<polygon points="250,643.3 260.6,624.9 239.3,624.9"/>
<polygon points="242.4,643.3 253.1,624.9 231.8,624.9"/>
<polygon points="234.9,643.3 245.5,624.9 224.2,624.9"/>
<polygon points="227.3,643.3 238,624.9 216.6,624.9"/>
<polygon points="219.7,643.4 230.4,624.9 209.1,624.9"/>
<polygon points="212.2,643.4 222.8,624.9 201.5,624.9"/>
<polygon points="204.6,643.4 215.3,624.9 194,624.9"/>
<polygon points="197.1,643.4 207.7,624.9 186.4,624.9"/>
<polygon points="189.5,643.4 200.2,625 178.9,625"/>
<polygon points="182,643.4 192.6,625 171.3,625"/>
<polygon points="174.4,643.4 185.1,625 163.8,625"/>
<polygon points="166.9,643.4 177.5,625 156.2,625"/>
<polygon points="159.3,643.4 170,625 148.7,625"/>
<polygon points="151.8,643.4 162.4,625 141.1,625"/>
<polygon points="144.2,643.4 154.9,625 133.6,625"/>
<polygon points="136.7,643.4 147.3,625 126,625"/>
<polygon points="129.1,643.4 139.8,625 118.5,625"/>
<polygon points="121.6,643.4 132.2,625 110.9,625"/>
<polygon points="114,643.4 124.7,625 103.3,625"/>
<polygon points="106.4,643.4 117.1,625 95.8,625"/>
<polygon points="98.9,643.4 109.5,625 88.2,625"/>
<polygon points="91.3,643.4 102,625 80.7,625"/>
</g>
</g>
<line x1="357" y1="135.1" x2="357" y2="671" stroke="#5a5a5a" stroke-width="1.8" stroke-dasharray="1.5 4.27"/>
<line x1="578.3" y1="335" x2="578.3" y2="671" stroke="#5a5a5a" stroke-width="1.8" stroke-dasharray="1.5 4.27"/>
<path d="M114.5 61.5 V672.5 H944.5 V61.5 Z" fill="none" stroke="#000" stroke-width="3" stroke-linejoin="miter"/>
<text x="100.5" y="680.1" font-size="32" text-anchor="end">0.0</text>
<line x1="114.5" y1="497.4" x2="128" y2="497.4" stroke="#000" stroke-width="3"/>
<text x="100.5" y="505.6" font-size="32" text-anchor="end">0.2</text>
<line x1="114.5" y1="323.2" x2="128" y2="323.2" stroke="#000" stroke-width="3"/>
<text x="100.5" y="331.4" font-size="32" text-anchor="end">0.4</text>
<line x1="114.5" y1="149.1" x2="128" y2="149.1" stroke="#000" stroke-width="3"/>
<text x="100.5" y="157.3" font-size="32" text-anchor="end">0.6</text>
<line x1="227.3" y1="672.5" x2="227.3" y2="659" stroke="#000" stroke-width="3"/>
<text x="227.3" y="708.5" font-size="32" text-anchor="middle">700</text>
<line x1="416.1" y1="672.5" x2="416.1" y2="659" stroke="#000" stroke-width="3"/>
<text x="416.1" y="708.5" font-size="32" text-anchor="middle">650</text>
<line x1="605" y1="672.5" x2="605" y2="659" stroke="#000" stroke-width="3"/>
<text x="605" y="708.5" font-size="32" text-anchor="middle">600</text>
<line x1="793.8" y1="672.5" x2="793.8" y2="659" stroke="#000" stroke-width="3"/>
<text x="793.8" y="708.5" font-size="32" text-anchor="middle">550</text>
<text x="358.5" y="104.7" font-size="32" text-anchor="middle">664</text>
<text x="580" y="309.9" font-size="32" text-anchor="middle">612</text>
<text x="529.4" y="767.3" font-size="34" font-weight="bold" text-anchor="middle" letter-spacing="0.56">Wavelength (nm)</text>
<text transform="translate(38.4 384.6) rotate(-90)" x="0.1" y="0" font-size="34" font-weight="bold" text-anchor="middle" letter-spacing="0.3">Absorbance (arb. unit)</text>
<text x="511.1" y="836" font-size="49.3" text-anchor="middle">(<tspan font-weight="bold">a</tspan>)</text>
<rect x="486.1" y="9" width="517.4" height="173.5" fill="none" stroke="#555" stroke-width="1.5"/>
<line x1="501.5" y1="36.3" x2="574.9" y2="36.3" stroke="#000000" stroke-width="1.4"/>
<g fill="#fff" stroke="#000000" stroke-width="1.8"><rect x="529.3" y="28.7" width="16.2" height="15.2"/></g>
<text x="581.2" y="47" font-size="35">MB Solution</text>
<line x1="501.5" y1="79.6" x2="574.9" y2="79.6" stroke="#ff0000" stroke-width="1.4"/>
<g fill="#fff" stroke="#ff0000" stroke-width="1.8"><polygon points="546.1,83.2 541,88.3 533.8,88.3 528.7,83.2 528.7,76 533.8,70.9 541,70.9 546.1,76"/></g>
<text x="581.2" y="90.1" font-size="35">Untreated Ti_2h</text>
<line x1="501.5" y1="122.7" x2="574.9" y2="122.7" stroke="#0000ff" stroke-width="1.4"/>
<g fill="#fff" stroke="#0000ff" stroke-width="1.8"><polygon points="537.4,110.4 548.1,128.8 526.7,128.8"/></g>
<text x="581.2" y="133.3" font-size="35">10 mol/L-KOH treated Ti_2h</text>
<line x1="501.5" y1="163.9" x2="574.9" y2="163.9" stroke="#ff00ff" stroke-width="1.4"/>
<g fill="#fff" stroke="#ff00ff" stroke-width="1.8"><polygon points="537.4,176.2 548.1,157.8 526.7,157.8"/></g>
<text x="581.2" y="174.5" font-size="32.7">Blank</text>
<clipPath id="clipb"><rect x="115" y="925" width="827" height="605"/></clipPath>
<g clip-path="url(#clipb)">
<polyline fill="none" stroke="#000000" stroke-width="1.7" points="965.5,1477.2 958,1477 950.5,1476.7 942.9,1476.4 935.4,1476.1 927.8,1475.8 920.3,1475.4 912.7,1474.9 905.2,1474.4 897.6,1473.8 890.1,1473.1 882.5,1472.3 875,1471.5 867.5,1470.5 859.9,1469.5 852.4,1468.3 844.8,1467 837.3,1465.3 829.7,1462.9 822.2,1460.5 814.6,1459 807.1,1456.3 799.6,1453.4 792,1449.4 784.5,1446.2 776.9,1443.2 769.4,1439.3 761.8,1435.3 754.3,1431.4 746.7,1427.5 739.2,1423.6 731.6,1419.7 724.1,1413.7 716.6,1409.2 709,1404.4 701.5,1399.4 693.9,1392.2 686.4,1387.2 678.8,1378.4 671.3,1372.5 663.7,1361.8 656.2,1352 648.6,1340.2 641.1,1325.1 633.6,1316.6 626,1305.2 618.5,1285.6 610.9,1270.9 603.4,1259 595.8,1250.2 588.3,1231.5 580.7,1219.8 573.2,1212.3 565.6,1207.4 558.1,1201.2 550.6,1198.6 543,1197.1 535.5,1197.1 527.9,1198.6 520.4,1200.2 512.8,1201.8 505.3,1203.2 497.7,1203.5 490.2,1203.1 482.6,1198.2 475.1,1191.9 467.6,1184.8 460,1176.6 452.5,1162.9 444.9,1150.1 437.4,1130.8 429.8,1115.8 422.3,1104.1 414.7,1080.8 407.2,1064 399.6,1047.4 392.1,1033.8 384.6,1019.8 377,1009 369.5,995.7 361.9,991.6 354.4,988.7 346.8,994.5 339.3,1006.9 331.7,1028.2 324.2,1057.2 316.6,1086.6 309.1,1149.9 301.6,1182.5 294,1222.4 286.5,1259.3 278.9,1288.5 271.4,1334.6 263.8,1365.1 256.3,1387.1 248.7,1402.7 241.2,1425.3 233.6,1438.2 226.1,1449.3 218.6,1454 211,1461.6 203.5,1468.7 195.9,1473.4 188.4,1477.5 180.8,1479.8 173.3,1482.2 165.7,1484.5 158.2,1485.8 150.6,1488.1 143.1,1489.3 135.6,1489.6 128,1489.7 120.5,1490 112.9,1490.2 105.4,1490.2 97.8,1490.2 90.3,1490.2"/>
<g fill="#fff" stroke="#000000" stroke-width="1.8" stroke-linejoin="miter">
<rect x="957.4" y="1469.6" width="16.2" height="15.2"/>
<rect x="949.9" y="1469.4" width="16.2" height="15.2"/>
<rect x="942.4" y="1469.1" width="16.2" height="15.2"/>
<rect x="934.8" y="1468.8" width="16.2" height="15.2"/>
<rect x="927.3" y="1468.5" width="16.2" height="15.2"/>
<rect x="919.7" y="1468.2" width="16.2" height="15.2"/>
<rect x="912.2" y="1467.8" width="16.2" height="15.2"/>
<rect x="904.6" y="1467.3" width="16.2" height="15.2"/>
<rect x="897.1" y="1466.8" width="16.2" height="15.2"/>
<rect x="889.5" y="1466.2" width="16.2" height="15.2"/>
<rect x="882" y="1465.5" width="16.2" height="15.2"/>
<rect x="874.4" y="1464.7" width="16.2" height="15.2"/>
<rect x="866.9" y="1463.9" width="16.2" height="15.2"/>
<rect x="859.4" y="1462.9" width="16.2" height="15.2"/>
<rect x="851.8" y="1461.9" width="16.2" height="15.2"/>
<rect x="844.3" y="1460.7" width="16.2" height="15.2"/>
<rect x="836.7" y="1459.4" width="16.2" height="15.2"/>
<rect x="829.2" y="1457.7" width="16.2" height="15.2"/>
<rect x="821.6" y="1455.3" width="16.2" height="15.2"/>
<rect x="814.1" y="1452.9" width="16.2" height="15.2"/>
<rect x="806.5" y="1451.4" width="16.2" height="15.2"/>
<rect x="799" y="1448.7" width="16.2" height="15.2"/>
<rect x="791.5" y="1445.8" width="16.2" height="15.2"/>
<rect x="783.9" y="1441.8" width="16.2" height="15.2"/>
<rect x="776.4" y="1438.6" width="16.2" height="15.2"/>
<rect x="768.8" y="1435.6" width="16.2" height="15.2"/>
<rect x="761.3" y="1431.7" width="16.2" height="15.2"/>
<rect x="753.7" y="1427.7" width="16.2" height="15.2"/>
<rect x="746.2" y="1423.8" width="16.2" height="15.2"/>
<rect x="738.6" y="1419.9" width="16.2" height="15.2"/>
<rect x="731.1" y="1416" width="16.2" height="15.2"/>
<rect x="723.5" y="1412.1" width="16.2" height="15.2"/>
<rect x="716" y="1406.1" width="16.2" height="15.2"/>
<rect x="708.5" y="1401.6" width="16.2" height="15.2"/>
<rect x="700.9" y="1396.8" width="16.2" height="15.2"/>
<rect x="693.4" y="1391.8" width="16.2" height="15.2"/>
<rect x="685.8" y="1384.6" width="16.2" height="15.2"/>
<rect x="678.3" y="1379.6" width="16.2" height="15.2"/>
<rect x="670.7" y="1370.8" width="16.2" height="15.2"/>
<rect x="663.2" y="1364.9" width="16.2" height="15.2"/>
<rect x="655.6" y="1354.2" width="16.2" height="15.2"/>
<rect x="648.1" y="1344.4" width="16.2" height="15.2"/>
<rect x="640.5" y="1332.6" width="16.2" height="15.2"/>
<rect x="633" y="1317.5" width="16.2" height="15.2"/>
<rect x="625.5" y="1309" width="16.2" height="15.2"/>
<rect x="617.9" y="1297.6" width="16.2" height="15.2"/>
<rect x="610.4" y="1278" width="16.2" height="15.2"/>
<rect x="602.8" y="1263.3" width="16.2" height="15.2"/>
<rect x="595.3" y="1251.4" width="16.2" height="15.2"/>
<rect x="587.7" y="1242.6" width="16.2" height="15.2"/>
<rect x="580.2" y="1223.9" width="16.2" height="15.2"/>
<rect x="572.6" y="1212.2" width="16.2" height="15.2"/>
<rect x="565.1" y="1204.7" width="16.2" height="15.2"/>
<rect x="557.5" y="1199.8" width="16.2" height="15.2"/>
<rect x="550" y="1193.6" width="16.2" height="15.2"/>
<rect x="542.5" y="1191" width="16.2" height="15.2"/>
<rect x="534.9" y="1189.5" width="16.2" height="15.2"/>
<rect x="527.4" y="1189.5" width="16.2" height="15.2"/>
<rect x="519.8" y="1191" width="16.2" height="15.2"/>
<rect x="512.3" y="1192.6" width="16.2" height="15.2"/>
<rect x="504.7" y="1194.2" width="16.2" height="15.2"/>
<rect x="497.2" y="1195.6" width="16.2" height="15.2"/>
<rect x="489.6" y="1195.9" width="16.2" height="15.2"/>
<rect x="482.1" y="1195.5" width="16.2" height="15.2"/>
<rect x="474.5" y="1190.6" width="16.2" height="15.2"/>
<rect x="467" y="1184.3" width="16.2" height="15.2"/>
<rect x="459.5" y="1177.2" width="16.2" height="15.2"/>
<rect x="451.9" y="1169" width="16.2" height="15.2"/>
<rect x="444.4" y="1155.3" width="16.2" height="15.2"/>
<rect x="436.8" y="1142.5" width="16.2" height="15.2"/>
<rect x="429.3" y="1123.2" width="16.2" height="15.2"/>
<rect x="421.7" y="1108.2" width="16.2" height="15.2"/>
<rect x="414.2" y="1096.5" width="16.2" height="15.2"/>
<rect x="406.6" y="1073.2" width="16.2" height="15.2"/>
<rect x="399.1" y="1056.4" width="16.2" height="15.2"/>
<rect x="391.5" y="1039.8" width="16.2" height="15.2"/>
<rect x="384" y="1026.2" width="16.2" height="15.2"/>
<rect x="376.5" y="1012.2" width="16.2" height="15.2"/>
<rect x="368.9" y="1001.4" width="16.2" height="15.2"/>
<rect x="361.4" y="988.1" width="16.2" height="15.2"/>
<rect x="353.8" y="984" width="16.2" height="15.2"/>
<rect x="346.3" y="981.1" width="16.2" height="15.2"/>
<rect x="338.7" y="986.9" width="16.2" height="15.2"/>
<rect x="331.2" y="999.3" width="16.2" height="15.2"/>
<rect x="323.6" y="1020.6" width="16.2" height="15.2"/>
<rect x="316.1" y="1049.6" width="16.2" height="15.2"/>
<rect x="308.5" y="1079" width="16.2" height="15.2"/>
<rect x="301" y="1142.3" width="16.2" height="15.2"/>
<rect x="293.5" y="1174.9" width="16.2" height="15.2"/>
<rect x="285.9" y="1214.8" width="16.2" height="15.2"/>
<rect x="278.4" y="1251.7" width="16.2" height="15.2"/>
<rect x="270.8" y="1280.9" width="16.2" height="15.2"/>
<rect x="263.3" y="1327" width="16.2" height="15.2"/>
<rect x="255.7" y="1357.5" width="16.2" height="15.2"/>
<rect x="248.2" y="1379.5" width="16.2" height="15.2"/>
<rect x="240.6" y="1395.1" width="16.2" height="15.2"/>
<rect x="233.1" y="1417.7" width="16.2" height="15.2"/>
<rect x="225.5" y="1430.6" width="16.2" height="15.2"/>
<rect x="218" y="1441.7" width="16.2" height="15.2"/>
<rect x="210.5" y="1446.4" width="16.2" height="15.2"/>
<rect x="202.9" y="1454" width="16.2" height="15.2"/>
<rect x="195.4" y="1461.1" width="16.2" height="15.2"/>
<rect x="187.8" y="1465.8" width="16.2" height="15.2"/>
<rect x="180.3" y="1469.9" width="16.2" height="15.2"/>
<rect x="172.7" y="1472.2" width="16.2" height="15.2"/>
<rect x="165.2" y="1474.6" width="16.2" height="15.2"/>
<rect x="157.6" y="1476.9" width="16.2" height="15.2"/>
<rect x="150.1" y="1478.2" width="16.2" height="15.2"/>
<rect x="142.5" y="1480.5" width="16.2" height="15.2"/>
<rect x="135" y="1481.7" width="16.2" height="15.2"/>
<rect x="127.5" y="1482" width="16.2" height="15.2"/>
<rect x="119.9" y="1482.1" width="16.2" height="15.2"/>
<rect x="112.4" y="1482.4" width="16.2" height="15.2"/>
<rect x="104.8" y="1482.6" width="16.2" height="15.2"/>
<rect x="97.3" y="1482.6" width="16.2" height="15.2"/>
<rect x="89.7" y="1482.6" width="16.2" height="15.2"/>
<rect x="82.2" y="1482.6" width="16.2" height="15.2"/>
</g>
<polyline fill="none" stroke="#ff0000" stroke-width="1.7" points="965.5,1473.7 958,1473.6 950.5,1473.5 942.9,1473.3 935.4,1473 927.8,1472.7 920.3,1472.2 912.7,1471.6 905.2,1471 897.6,1470.3 890.1,1469.7 882.5,1469.1 875,1468.5 867.5,1468 859.9,1467.4 852.4,1466.7 844.8,1465.7 837.3,1464.2 829.7,1462.1 822.2,1459.8 814.6,1457.7 807.1,1455.4 799.6,1453 792,1450.4 784.5,1447.7 776.9,1444.4 769.4,1439.6 761.8,1434.7 754.3,1432.6 746.7,1430.6 739.2,1427.6 731.6,1423.9 724.1,1418.6 716.6,1412.9 709,1408.3 701.5,1404 693.9,1399.4 686.4,1394.4 678.8,1387.9 671.3,1381.1 663.7,1371.8 656.2,1364.4 648.6,1354.3 641.1,1344.4 633.6,1335.3 626,1326.1 618.5,1313.6 610.9,1301.7 603.4,1298.1 595.8,1284.7 588.3,1271.3 580.7,1264.4 573.2,1259.1 565.6,1254.5 558.1,1249.8 550.6,1246.1 543,1243.8 535.5,1242.8 527.9,1243.2 520.4,1244.1 512.8,1245 505.3,1245.9 497.7,1246 490.2,1245.2 482.6,1243.4 475.1,1238.4 467.6,1232.2 460,1224.3 452.5,1214.6 444.9,1201.6 437.4,1181.3 429.8,1171.3 422.3,1162.9 414.7,1144.4 407.2,1132.7 399.6,1121 392.1,1107.5 384.6,1097.5 377,1089.1 369.5,1080.7 361.9,1079.1 354.4,1079.6 346.8,1083 339.3,1097.5 331.7,1110.9 324.2,1135 316.6,1166.2 309.1,1208.2 301.6,1243.4 294,1266.8 286.5,1305.4 278.9,1328.9 271.4,1357.4 263.8,1388.6 256.3,1406 248.7,1417.7 241.2,1432.8 233.6,1444.6 226.1,1450.9 218.6,1459.7 211,1463.4 203.5,1467.9 195.9,1472 188.4,1475.1 180.8,1477.5 173.3,1479.4 165.7,1481 158.2,1482.3 150.6,1483.4 143.1,1484.5 135.6,1485.5 128,1486.6 120.5,1487.6 112.9,1488.4 105.4,1488.4 97.8,1488.4 90.3,1488.4"/>
<g fill="#fff" stroke="#ff0000" stroke-width="1.8" stroke-linejoin="miter">
<polygon points="974.2,1477.3 969.2,1482.4 961.9,1482.4 956.8,1477.3 956.8,1470.1 961.9,1465 969.2,1465 974.2,1470.1"/>
<polygon points="966.7,1477.2 961.6,1482.3 954.4,1482.3 949.3,1477.2 949.3,1470 954.4,1464.9 961.6,1464.9 966.7,1470"/>
<polygon points="959.2,1477.1 954.1,1482.2 946.9,1482.2 941.8,1477.1 941.8,1469.9 946.9,1464.8 954.1,1464.8 959.2,1469.9"/>
<polygon points="951.6,1476.9 946.5,1482 939.3,1482 934.2,1476.9 934.2,1469.7 939.3,1464.6 946.5,1464.6 951.6,1469.7"/>
<polygon points="944.1,1476.6 939,1481.7 931.8,1481.7 926.7,1476.6 926.7,1469.4 931.8,1464.3 939,1464.3 944.1,1469.4"/>
<polygon points="936.5,1476.3 931.4,1481.4 924.2,1481.4 919.1,1476.3 919.1,1469.1 924.2,1464 931.4,1464 936.5,1469.1"/>
<polygon points="929,1475.8 923.9,1480.9 916.7,1480.9 911.6,1475.8 911.6,1468.6 916.7,1463.5 923.9,1463.5 929,1468.6"/>
<polygon points="921.4,1475.2 916.3,1480.3 909.1,1480.3 904,1475.2 904,1468 909.1,1462.9 916.3,1462.9 921.4,1468"/>
<polygon points="913.9,1474.6 908.8,1479.7 901.6,1479.7 896.5,1474.6 896.5,1467.4 901.6,1462.3 908.8,1462.3 913.9,1467.4"/>
<polygon points="906.3,1473.9 901.2,1479 894,1479 888.9,1473.9 888.9,1466.7 894,1461.6 901.2,1461.6 906.3,1466.7"/>
<polygon points="898.8,1473.3 893.7,1478.4 886.5,1478.4 881.4,1473.3 881.4,1466.1 886.5,1461 893.7,1461 898.8,1466.1"/>
<polygon points="891.2,1472.7 886.2,1477.8 878.9,1477.8 873.8,1472.7 873.8,1465.5 878.9,1460.4 886.2,1460.4 891.2,1465.5"/>
<polygon points="883.7,1472.1 878.6,1477.2 871.4,1477.2 866.3,1472.1 866.3,1464.9 871.4,1459.8 878.6,1459.8 883.7,1464.9"/>
<polygon points="876.2,1471.6 871.1,1476.7 863.9,1476.7 858.8,1471.6 858.8,1464.4 863.9,1459.3 871.1,1459.3 876.2,1464.4"/>
<polygon points="868.6,1471 863.5,1476.1 856.3,1476.1 851.2,1471 851.2,1463.8 856.3,1458.7 863.5,1458.7 868.6,1463.8"/>
<polygon points="861.1,1470.3 856,1475.4 848.8,1475.4 843.7,1470.3 843.7,1463.1 848.8,1458 856,1458 861.1,1463.1"/>
<polygon points="853.5,1469.3 848.4,1474.4 841.2,1474.4 836.1,1469.3 836.1,1462.1 841.2,1457 848.4,1457 853.5,1462.1"/>
<polygon points="846,1467.8 840.9,1472.9 833.7,1472.9 828.6,1467.8 828.6,1460.6 833.7,1455.5 840.9,1455.5 846,1460.6"/>
<polygon points="838.4,1465.7 833.3,1470.8 826.1,1470.8 821,1465.7 821,1458.5 826.1,1453.4 833.3,1453.4 838.4,1458.5"/>
<polygon points="830.9,1463.5 825.8,1468.5 818.6,1468.5 813.5,1463.5 813.5,1456.2 818.6,1451.1 825.8,1451.1 830.9,1456.2"/>
<polygon points="823.3,1461.3 818.2,1466.4 811,1466.4 805.9,1461.3 805.9,1454.1 811,1449 818.2,1449 823.3,1454.1"/>
<polygon points="815.8,1459 810.7,1464.1 803.5,1464.1 798.4,1459 798.4,1451.8 803.5,1446.7 810.7,1446.7 815.8,1451.8"/>
<polygon points="808.3,1456.6 803.2,1461.7 795.9,1461.7 790.9,1456.6 790.9,1449.4 795.9,1444.3 803.2,1444.3 808.3,1449.4"/>
<polygon points="800.7,1454 795.6,1459.1 788.4,1459.1 783.3,1454 783.3,1446.8 788.4,1441.7 795.6,1441.7 800.7,1446.8"/>
<polygon points="793.2,1451.3 788.1,1456.4 780.9,1456.4 775.8,1451.3 775.8,1444.1 780.9,1439 788.1,1439 793.2,1444.1"/>
<polygon points="785.6,1448 780.5,1453.1 773.3,1453.1 768.2,1448 768.2,1440.8 773.3,1435.7 780.5,1435.7 785.6,1440.8"/>
<polygon points="778.1,1443.3 773,1448.3 765.8,1448.3 760.7,1443.3 760.7,1436 765.8,1430.9 773,1430.9 778.1,1436"/>
<polygon points="770.5,1438.3 765.4,1443.4 758.2,1443.4 753.1,1438.3 753.1,1431.1 758.2,1426 765.4,1426 770.5,1431.1"/>
<polygon points="763,1436.2 757.9,1441.3 750.7,1441.3 745.6,1436.2 745.6,1429 750.7,1423.9 757.9,1423.9 763,1429"/>
<polygon points="755.4,1434.2 750.3,1439.3 743.1,1439.3 738,1434.2 738,1427 743.1,1421.9 750.3,1421.9 755.4,1427"/>
<polygon points="747.9,1431.2 742.8,1436.3 735.6,1436.3 730.5,1431.2 730.5,1424 735.6,1418.9 742.8,1418.9 747.9,1424"/>
<polygon points="740.3,1427.5 735.2,1432.6 728,1432.6 722.9,1427.5 722.9,1420.3 728,1415.2 735.2,1415.2 740.3,1420.3"/>
<polygon points="732.8,1422.2 727.7,1427.3 720.5,1427.3 715.4,1422.2 715.4,1415 720.5,1409.9 727.7,1409.9 732.8,1415"/>
<polygon points="725.3,1416.5 720.2,1421.6 712.9,1421.6 707.9,1416.5 707.9,1409.3 712.9,1404.2 720.2,1404.2 725.3,1409.3"/>
<polygon points="717.7,1411.9 712.6,1417 705.4,1417 700.3,1411.9 700.3,1404.7 705.4,1399.6 712.6,1399.6 717.7,1404.7"/>
<polygon points="710.2,1407.6 705.1,1412.7 697.9,1412.7 692.8,1407.6 692.8,1400.4 697.9,1395.3 705.1,1395.3 710.2,1400.4"/>
<polygon points="702.6,1403 697.5,1408.1 690.3,1408.1 685.2,1403 685.2,1395.8 690.3,1390.7 697.5,1390.7 702.6,1395.8"/>
<polygon points="695.1,1398 690,1403.1 682.8,1403.1 677.7,1398 677.7,1390.8 682.8,1385.7 690,1385.7 695.1,1390.8"/>
<polygon points="687.5,1391.5 682.4,1396.6 675.2,1396.6 670.1,1391.5 670.1,1384.3 675.2,1379.2 682.4,1379.2 687.5,1384.3"/>
<polygon points="680,1384.7 674.9,1389.8 667.7,1389.8 662.6,1384.7 662.6,1377.5 667.7,1372.4 674.9,1372.4 680,1377.5"/>
<polygon points="672.4,1375.4 667.3,1380.5 660.1,1380.5 655,1375.4 655,1368.2 660.1,1363.1 667.3,1363.1 672.4,1368.2"/>
<polygon points="664.9,1368 659.8,1373.1 652.6,1373.1 647.5,1368 647.5,1360.8 652.6,1355.7 659.8,1355.7 664.9,1360.8"/>
<polygon points="657.3,1357.9 652.2,1363 645,1363 639.9,1357.9 639.9,1350.7 645,1345.6 652.2,1345.6 657.3,1350.7"/>
<polygon points="649.8,1348 644.7,1353.1 637.5,1353.1 632.4,1348 632.4,1340.8 637.5,1335.7 644.7,1335.7 649.8,1340.8"/>
<polygon points="642.3,1338.9 637.2,1344 629.9,1344 624.9,1338.9 624.9,1331.7 629.9,1326.6 637.2,1326.6 642.3,1331.7"/>
<polygon points="634.7,1329.7 629.6,1334.8 622.4,1334.8 617.3,1329.7 617.3,1322.5 622.4,1317.4 629.6,1317.4 634.7,1322.5"/>
<polygon points="627.2,1317.2 622.1,1322.3 614.9,1322.3 609.8,1317.2 609.8,1310 614.9,1304.9 622.1,1304.9 627.2,1310"/>
<polygon points="619.6,1305.3 614.5,1310.4 607.3,1310.4 602.2,1305.3 602.2,1298.1 607.3,1293 614.5,1293 619.6,1298.1"/>
<polygon points="612.1,1301.7 607,1306.8 599.8,1306.8 594.7,1301.7 594.7,1294.5 599.8,1289.4 607,1289.4 612.1,1294.5"/>
<polygon points="604.5,1288.3 599.4,1293.4 592.2,1293.4 587.1,1288.3 587.1,1281.1 592.2,1276 599.4,1276 604.5,1281.1"/>
<polygon points="597,1274.9 591.9,1280 584.7,1280 579.6,1274.9 579.6,1267.7 584.7,1262.6 591.9,1262.6 597,1267.7"/>
<polygon points="589.4,1268 584.3,1273.1 577.1,1273.1 572,1268 572,1260.8 577.1,1255.7 584.3,1255.7 589.4,1260.8"/>
<polygon points="581.9,1262.7 576.8,1267.8 569.6,1267.8 564.5,1262.7 564.5,1255.5 569.6,1250.4 576.8,1250.4 581.9,1255.5"/>
<polygon points="574.3,1258.1 569.2,1263.2 562,1263.2 556.9,1258.1 556.9,1250.9 562,1245.8 569.2,1245.8 574.3,1250.9"/>
<polygon points="566.8,1253.4 561.7,1258.5 554.5,1258.5 549.4,1253.4 549.4,1246.2 554.5,1241.1 561.7,1241.1 566.8,1246.2"/>
<polygon points="559.3,1249.7 554.2,1254.8 546.9,1254.8 541.9,1249.7 541.9,1242.5 546.9,1237.4 554.2,1237.4 559.3,1242.5"/>
<polygon points="551.7,1247.4 546.6,1252.5 539.4,1252.5 534.3,1247.4 534.3,1240.2 539.4,1235.1 546.6,1235.1 551.7,1240.2"/>
<polygon points="544.2,1246.4 539.1,1251.5 531.9,1251.5 526.8,1246.4 526.8,1239.2 531.9,1234.1 539.1,1234.1 544.2,1239.2"/>
<polygon points="536.6,1246.8 531.5,1251.9 524.3,1251.9 519.2,1246.8 519.2,1239.6 524.3,1234.5 531.5,1234.5 536.6,1239.6"/>
<polygon points="529.1,1247.7 524,1252.8 516.8,1252.8 511.7,1247.7 511.7,1240.5 516.8,1235.4 524,1235.4 529.1,1240.5"/>
<polygon points="521.5,1248.6 516.4,1253.7 509.2,1253.7 504.1,1248.6 504.1,1241.4 509.2,1236.3 516.4,1236.3 521.5,1241.4"/>
<polygon points="514,1249.5 508.9,1254.6 501.7,1254.6 496.6,1249.5 496.6,1242.3 501.7,1237.2 508.9,1237.2 514,1242.3"/>
<polygon points="506.4,1249.6 501.3,1254.7 494.1,1254.7 489,1249.6 489,1242.4 494.1,1237.3 501.3,1237.3 506.4,1242.4"/>
<polygon points="498.9,1248.8 493.8,1253.9 486.6,1253.9 481.5,1248.8 481.5,1241.6 486.6,1236.5 493.8,1236.5 498.9,1241.6"/>
<polygon points="491.3,1247 486.2,1252.1 479,1252.1 473.9,1247 473.9,1239.8 479,1234.7 486.2,1234.7 491.3,1239.8"/>
<polygon points="483.8,1242.1 478.7,1247.1 471.5,1247.1 466.4,1242.1 466.4,1234.8 471.5,1229.7 478.7,1229.7 483.8,1234.8"/>
<polygon points="476.3,1235.8 471.2,1240.9 463.9,1240.9 458.9,1235.8 458.9,1228.6 463.9,1223.5 471.2,1223.5 476.3,1228.6"/>
<polygon points="468.7,1227.9 463.6,1233 456.4,1233 451.3,1227.9 451.3,1220.7 456.4,1215.6 463.6,1215.6 468.7,1220.7"/>
<polygon points="461.2,1218.2 456.1,1223.3 448.9,1223.3 443.8,1218.2 443.8,1211 448.9,1205.9 456.1,1205.9 461.2,1211"/>
<polygon points="453.6,1205.2 448.5,1210.3 441.3,1210.3 436.2,1205.2 436.2,1198 441.3,1192.9 448.5,1192.9 453.6,1198"/>
<polygon points="446.1,1184.9 441,1190 433.8,1190 428.7,1184.9 428.7,1177.7 433.8,1172.6 441,1172.6 446.1,1177.7"/>
<polygon points="438.5,1174.9 433.4,1180 426.2,1180 421.1,1174.9 421.1,1167.7 426.2,1162.6 433.4,1162.6 438.5,1167.7"/>
<polygon points="431,1166.5 425.9,1171.6 418.7,1171.6 413.6,1166.5 413.6,1159.3 418.7,1154.2 425.9,1154.2 431,1159.3"/>
<polygon points="423.4,1148 418.3,1153.1 411.1,1153.1 406,1148 406,1140.8 411.1,1135.7 418.3,1135.7 423.4,1140.8"/>
<polygon points="415.9,1136.3 410.8,1141.4 403.6,1141.4 398.5,1136.3 398.5,1129.1 403.6,1124 410.8,1124 415.9,1129.1"/>
<polygon points="408.3,1124.6 403.2,1129.7 396,1129.7 390.9,1124.6 390.9,1117.4 396,1112.3 403.2,1112.3 408.3,1117.4"/>
<polygon points="400.8,1111.1 395.7,1116.2 388.5,1116.2 383.4,1111.1 383.4,1103.9 388.5,1098.8 395.7,1098.8 400.8,1103.9"/>
<polygon points="393.3,1101.1 388.2,1106.2 380.9,1106.2 375.9,1101.1 375.9,1093.9 380.9,1088.8 388.2,1088.8 393.3,1093.9"/>
<polygon points="385.7,1092.7 380.6,1097.8 373.4,1097.8 368.3,1092.7 368.3,1085.5 373.4,1080.4 380.6,1080.4 385.7,1085.5"/>
<polygon points="378.2,1084.3 373.1,1089.4 365.9,1089.4 360.8,1084.3 360.8,1077.1 365.9,1072 373.1,1072 378.2,1077.1"/>
<polygon points="370.6,1082.7 365.5,1087.8 358.3,1087.8 353.2,1082.7 353.2,1075.5 358.3,1070.4 365.5,1070.4 370.6,1075.5"/>
<polygon points="363.1,1083.2 358,1088.3 350.8,1088.3 345.7,1083.2 345.7,1076 350.8,1070.9 358,1070.9 363.1,1076"/>
<polygon points="355.5,1086.6 350.4,1091.7 343.2,1091.7 338.1,1086.6 338.1,1079.4 343.2,1074.3 350.4,1074.3 355.5,1079.4"/>
<polygon points="348,1101.1 342.9,1106.2 335.7,1106.2 330.6,1101.1 330.6,1093.9 335.7,1088.8 342.9,1088.8 348,1093.9"/>
<polygon points="340.4,1114.5 335.3,1119.6 328.1,1119.6 323,1114.5 323,1107.3 328.1,1102.2 335.3,1102.2 340.4,1107.3"/>
<polygon points="332.9,1138.6 327.8,1143.7 320.6,1143.7 315.5,1138.6 315.5,1131.4 320.6,1126.3 327.8,1126.3 332.9,1131.4"/>
<polygon points="325.3,1169.8 320.2,1174.9 313,1174.9 307.9,1169.8 307.9,1162.6 313,1157.5 320.2,1157.5 325.3,1162.6"/>
<polygon points="317.8,1211.8 312.7,1216.9 305.5,1216.9 300.4,1211.8 300.4,1204.6 305.5,1199.5 312.7,1199.5 317.8,1204.6"/>
<polygon points="310.3,1247 305.2,1252.1 298,1252.1 292.9,1247 292.9,1239.8 298,1234.7 305.2,1234.7 310.3,1239.8"/>
<polygon points="302.7,1270.4 297.6,1275.5 290.4,1275.5 285.3,1270.4 285.3,1263.2 290.4,1258.1 297.6,1258.1 302.7,1263.2"/>
<polygon points="295.2,1309 290.1,1314.1 282.9,1314.1 277.8,1309 277.8,1301.8 282.9,1296.7 290.1,1296.7 295.2,1301.8"/>
<polygon points="287.6,1332.5 282.5,1337.6 275.3,1337.6 270.2,1332.5 270.2,1325.3 275.3,1320.2 282.5,1320.2 287.6,1325.3"/>
<polygon points="280.1,1361 275,1366.1 267.8,1366.1 262.7,1361 262.7,1353.8 267.8,1348.7 275,1348.7 280.1,1353.8"/>
<polygon points="272.5,1392.2 267.4,1397.3 260.2,1397.3 255.1,1392.2 255.1,1385 260.2,1379.9 267.4,1379.9 272.5,1385"/>
<polygon points="265,1409.6 259.9,1414.7 252.7,1414.7 247.6,1409.6 247.6,1402.4 252.7,1397.3 259.9,1397.3 265,1402.4"/>
<polygon points="257.4,1421.3 252.3,1426.4 245.1,1426.4 240,1421.3 240,1414.1 245.1,1409 252.3,1409 257.4,1414.1"/>
<polygon points="249.9,1436.4 244.8,1441.5 237.6,1441.5 232.5,1436.4 232.5,1429.2 237.6,1424.1 244.8,1424.1 249.9,1429.2"/>
<polygon points="242.3,1448.2 237.2,1453.3 230,1453.3 224.9,1448.2 224.9,1441 230,1435.9 237.2,1435.9 242.3,1441"/>
<polygon points="234.8,1454.5 229.7,1459.6 222.5,1459.6 217.4,1454.5 217.4,1447.3 222.5,1442.2 229.7,1442.2 234.8,1447.3"/>
<polygon points="227.3,1463.3 222.2,1468.4 215,1468.4 209.9,1463.3 209.9,1456.1 215,1451 222.2,1451 227.3,1456.1"/>
<polygon points="219.7,1467 214.6,1472.1 207.4,1472.1 202.3,1467 202.3,1459.8 207.4,1454.7 214.6,1454.7 219.7,1459.8"/>
<polygon points="212.2,1471.5 207.1,1476.6 199.9,1476.6 194.8,1471.5 194.8,1464.3 199.9,1459.2 207.1,1459.2 212.2,1464.3"/>
<polygon points="204.6,1475.6 199.5,1480.7 192.3,1480.7 187.2,1475.6 187.2,1468.3 192.3,1463.3 199.5,1463.3 204.6,1468.3"/>
<polygon points="197.1,1478.7 192,1483.8 184.8,1483.8 179.7,1478.7 179.7,1471.5 184.8,1466.4 192,1466.4 197.1,1471.5"/>
<polygon points="189.5,1481.1 184.4,1486.2 177.2,1486.2 172.1,1481.1 172.1,1473.9 177.2,1468.8 184.4,1468.8 189.5,1473.9"/>
<polygon points="182,1483 176.9,1488.1 169.7,1488.1 164.6,1483 164.6,1475.8 169.7,1470.7 176.9,1470.7 182,1475.8"/>
<polygon points="174.4,1484.6 169.3,1489.7 162.1,1489.7 157,1484.6 157,1477.4 162.1,1472.3 169.3,1472.3 174.4,1477.4"/>
<polygon points="166.9,1485.9 161.8,1491 154.6,1491 149.5,1485.9 149.5,1478.7 154.6,1473.6 161.8,1473.6 166.9,1478.7"/>
<polygon points="159.3,1487 154.2,1492.1 147,1492.1 141.9,1487 141.9,1479.8 147,1474.7 154.2,1474.7 159.3,1479.8"/>
<polygon points="151.8,1488.1 146.7,1493.2 139.5,1493.2 134.4,1488.1 134.4,1480.9 139.5,1475.8 146.7,1475.8 151.8,1480.9"/>
<polygon points="144.3,1489.1 139.2,1494.2 132,1494.2 126.9,1489.1 126.9,1481.9 132,1476.8 139.2,1476.8 144.3,1481.9"/>
<polygon points="136.7,1490.2 131.6,1495.3 124.4,1495.3 119.3,1490.2 119.3,1483 124.4,1477.9 131.6,1477.9 136.7,1483"/>
<polygon points="129.2,1491.2 124.1,1496.3 116.9,1496.3 111.8,1491.2 111.8,1484 116.9,1478.9 124.1,1478.9 129.2,1484"/>
<polygon points="121.6,1492 116.5,1497.1 109.3,1497.1 104.2,1492 104.2,1484.8 109.3,1479.7 116.5,1479.7 121.6,1484.8"/>
<polygon points="114.1,1492 109,1497.1 101.8,1497.1 96.7,1492 96.7,1484.8 101.8,1479.7 109,1479.7 114.1,1484.8"/>
<polygon points="106.5,1492 101.4,1497.1 94.2,1497.1 89.1,1492 89.1,1484.8 94.2,1479.7 101.4,1479.7 106.5,1484.8"/>
<polygon points="99,1492 93.9,1497.1 86.7,1497.1 81.6,1492 81.6,1484.8 86.7,1479.7 93.9,1479.7 99,1484.8"/>
</g>
<polyline fill="none" stroke="#0000ff" stroke-width="1.7" points="965.5,1494.5 958,1494.5 950.5,1494.5 942.9,1494.5 935.4,1494.5 927.8,1494.5 920.3,1494.4 912.7,1494.4 905.2,1494.4 897.6,1494.3 890.1,1494.2 882.5,1494.2 875,1494.1 867.5,1494.1 859.9,1494 852.4,1494 844.8,1493.9 837.3,1493.9 829.7,1493.8 822.2,1493.8 814.6,1493.7 807.1,1493.6 799.6,1493.6 792,1493.5 784.5,1493.5 776.9,1493.4 769.4,1493.3 761.8,1493.3 754.3,1493.2 746.7,1493.1 739.2,1493.1 731.6,1493 724.1,1493 716.6,1492.9 709,1492.8 701.5,1492.8 693.9,1492.7 686.4,1492.6 678.8,1492.6 671.3,1492.5 663.7,1492.4 656.2,1492.3 648.6,1492.3 641.1,1492.2 633.6,1492.1 626,1492 618.5,1491.8 610.9,1491.7 603.4,1491.6 595.8,1491.4 588.3,1491.3 580.7,1491.2 573.2,1491 565.6,1490.9 558.1,1490.7 550.6,1490.6 543,1490.5 535.5,1490.3 527.9,1490.2 520.4,1490.1 512.8,1489.9 505.3,1489.7 497.7,1489.5 490.2,1489.3 482.6,1489 475.1,1488.7 467.6,1488.3 460,1487.9 452.5,1487.4 444.9,1487 437.4,1486.5 429.8,1486 422.3,1485.4 414.7,1484.9 407.2,1484.4 399.6,1483.9 392.1,1483.4 384.6,1482.9 377,1482.5 369.5,1482.1 361.9,1481.9 354.4,1482.1 346.8,1482.4 339.3,1483 331.7,1483.6 324.2,1484.3 316.6,1485.2 309.1,1486.4 301.6,1487.8 294,1489.2 286.5,1490.5 278.9,1491.8 271.4,1493.1 263.8,1494.4 256.3,1495.5 248.7,1496.2 241.2,1496.7 233.6,1497.2 226.1,1497.6 218.6,1497.8 211,1497.9 203.5,1497.9 195.9,1497.9 188.4,1497.9 180.8,1497.9 173.3,1497.9 165.7,1497.9 158.2,1497.9 150.6,1497.9 143.1,1497.9 135.6,1497.9 128,1497.9 120.5,1497.9 112.9,1497.9 105.4,1497.9 97.8,1497.9 90.3,1497.9"/>
<g fill="#fff" stroke="#0000ff" stroke-width="1.8" stroke-linejoin="miter">
<polygon points="965.5,1482.2 976.2,1500.7 954.9,1500.7"/>
<polygon points="958,1482.2 968.7,1500.7 947.4,1500.7"/>
<polygon points="950.5,1482.2 961.1,1500.7 939.8,1500.7"/>
<polygon points="942.9,1482.2 953.6,1500.7 932.3,1500.7"/>
<polygon points="935.4,1482.2 946,1500.6 924.7,1500.6"/>
<polygon points="927.8,1482.2 938.5,1500.6 917.2,1500.6"/>
<polygon points="920.3,1482.1 930.9,1500.6 909.6,1500.6"/>
<polygon points="912.7,1482.1 923.4,1500.6 902.1,1500.6"/>
<polygon points="905.2,1482.1 915.8,1500.5 894.5,1500.5"/>
<polygon points="897.6,1482 908.3,1500.4 887,1500.4"/>
<polygon points="890.1,1481.9 900.7,1500.4 879.4,1500.4"/>
<polygon points="882.5,1481.9 893.2,1500.3 871.9,1500.3"/>
<polygon points="875,1481.8 885.7,1500.3 864.4,1500.3"/>
<polygon points="867.5,1481.8 878.1,1500.2 856.8,1500.2"/>
<polygon points="859.9,1481.7 870.6,1500.2 849.3,1500.2"/>
<polygon points="852.4,1481.7 863,1500.1 841.7,1500.1"/>
<polygon points="844.8,1481.6 855.5,1500.1 834.2,1500.1"/>
<polygon points="837.3,1481.6 847.9,1500 826.6,1500"/>
<polygon points="829.7,1481.5 840.4,1500 819.1,1500"/>
<polygon points="822.2,1481.5 832.8,1499.9 811.5,1499.9"/>
<polygon points="814.6,1481.4 825.3,1499.8 804,1499.8"/>
<polygon points="807.1,1481.3 817.7,1499.8 796.4,1499.8"/>
<polygon points="799.6,1481.3 810.2,1499.7 788.9,1499.7"/>
<polygon points="792,1481.2 802.7,1499.7 781.4,1499.7"/>
<polygon points="784.5,1481.2 795.1,1499.6 773.8,1499.6"/>
<polygon points="776.9,1481.1 787.6,1499.5 766.3,1499.5"/>
<polygon points="769.4,1481 780,1499.5 758.7,1499.5"/>
<polygon points="761.8,1481 772.5,1499.4 751.2,1499.4"/>
<polygon points="754.3,1480.9 764.9,1499.4 743.6,1499.4"/>
<polygon points="746.7,1480.8 757.4,1499.3 736.1,1499.3"/>
<polygon points="739.2,1480.8 749.8,1499.2 728.5,1499.2"/>
<polygon points="731.6,1480.7 742.3,1499.2 721,1499.2"/>
<polygon points="724.1,1480.7 734.7,1499.1 713.4,1499.1"/>
<polygon points="716.6,1480.6 727.2,1499.1 705.9,1499.1"/>
<polygon points="709,1480.5 719.7,1499 698.4,1499"/>
<polygon points="701.5,1480.5 712.1,1498.9 690.8,1498.9"/>
<polygon points="693.9,1480.4 704.6,1498.9 683.3,1498.9"/>
<polygon points="686.4,1480.3 697,1498.8 675.7,1498.8"/>
<polygon points="678.8,1480.3 689.5,1498.7 668.2,1498.7"/>
<polygon points="671.3,1480.2 681.9,1498.6 660.6,1498.6"/>
<polygon points="663.7,1480.1 674.4,1498.6 653.1,1498.6"/>
<polygon points="656.2,1480 666.8,1498.5 645.5,1498.5"/>
<polygon points="648.6,1480 659.3,1498.4 638,1498.4"/>
<polygon points="641.1,1479.9 651.7,1498.3 630.4,1498.3"/>
<polygon points="633.6,1479.8 644.2,1498.2 622.9,1498.2"/>
<polygon points="626,1479.7 636.7,1498.1 615.4,1498.1"/>
<polygon points="618.5,1479.5 629.1,1498 607.8,1498"/>
<polygon points="610.9,1479.4 621.6,1497.9 600.3,1497.9"/>
<polygon points="603.4,1479.3 614,1497.7 592.7,1497.7"/>
<polygon points="595.8,1479.1 606.5,1497.6 585.2,1497.6"/>
<polygon points="588.3,1479 598.9,1497.4 577.6,1497.4"/>
<polygon points="580.7,1478.9 591.4,1497.3 570.1,1497.3"/>
<polygon points="573.2,1478.7 583.8,1497.2 562.5,1497.2"/>
<polygon points="565.6,1478.6 576.3,1497 555,1497"/>
<polygon points="558.1,1478.4 568.7,1496.9 547.4,1496.9"/>
<polygon points="550.6,1478.3 561.2,1496.7 539.9,1496.7"/>
<polygon points="543,1478.2 553.7,1496.6 532.4,1496.6"/>
<polygon points="535.5,1478 546.1,1496.5 524.8,1496.5"/>
<polygon points="527.9,1477.9 538.6,1496.4 517.3,1496.4"/>
<polygon points="520.4,1477.8 531,1496.2 509.7,1496.2"/>
<polygon points="512.8,1477.6 523.5,1496 502.2,1496"/>
<polygon points="505.3,1477.4 515.9,1495.9 494.6,1495.9"/>
<polygon points="497.7,1477.2 508.4,1495.7 487.1,1495.7"/>
<polygon points="490.2,1477 500.8,1495.5 479.5,1495.5"/>
<polygon points="482.6,1476.7 493.3,1495.2 472,1495.2"/>
<polygon points="475.1,1476.4 485.8,1494.8 464.4,1494.8"/>
<polygon points="467.6,1476 478.2,1494.4 456.9,1494.4"/>
<polygon points="460,1475.6 470.7,1494 449.4,1494"/>
<polygon points="452.5,1475.1 463.1,1493.6 441.8,1493.6"/>
<polygon points="444.9,1474.7 455.6,1493.1 434.3,1493.1"/>
<polygon points="437.4,1474.2 448,1492.6 426.7,1492.6"/>
<polygon points="429.8,1473.7 440.5,1492.1 419.2,1492.1"/>
<polygon points="422.3,1473.1 432.9,1491.6 411.6,1491.6"/>
<polygon points="414.7,1472.6 425.4,1491 404.1,1491"/>
<polygon points="407.2,1472.1 417.8,1490.5 396.5,1490.5"/>
<polygon points="399.6,1471.6 410.3,1490 389,1490"/>
<polygon points="392.1,1471.1 402.8,1489.6 381.4,1489.6"/>
<polygon points="384.6,1470.6 395.2,1489.1 373.9,1489.1"/>
<polygon points="377,1470.2 387.7,1488.6 366.4,1488.6"/>
<polygon points="369.5,1469.8 380.1,1488.2 358.8,1488.2"/>
<polygon points="361.9,1469.6 372.6,1488.1 351.3,1488.1"/>
<polygon points="354.4,1469.8 365,1488.2 343.7,1488.2"/>
<polygon points="346.8,1470.1 357.5,1488.6 336.2,1488.6"/>
<polygon points="339.3,1470.7 349.9,1489.1 328.6,1489.1"/>
<polygon points="331.7,1471.3 342.4,1489.8 321.1,1489.8"/>
<polygon points="324.2,1472 334.8,1490.4 313.5,1490.4"/>
<polygon points="316.6,1472.9 327.3,1491.3 306,1491.3"/>
<polygon points="309.1,1474.1 319.8,1492.5 298.4,1492.5"/>
<polygon points="301.6,1475.5 312.2,1493.9 290.9,1493.9"/>
<polygon points="294,1476.9 304.7,1495.4 283.4,1495.4"/>
<polygon points="286.5,1478.2 297.1,1496.7 275.8,1496.7"/>
<polygon points="278.9,1479.5 289.6,1497.9 268.3,1497.9"/>
<polygon points="271.4,1480.8 282,1499.3 260.7,1499.3"/>
<polygon points="263.8,1482.1 274.5,1500.6 253.2,1500.6"/>
<polygon points="256.3,1483.2 266.9,1501.7 245.6,1501.7"/>
<polygon points="248.7,1483.9 259.4,1502.4 238.1,1502.4"/>
<polygon points="241.2,1484.4 251.8,1502.9 230.5,1502.9"/>
<polygon points="233.6,1484.9 244.3,1503.3 223,1503.3"/>
<polygon points="226.1,1485.3 236.8,1503.7 215.4,1503.7"/>
<polygon points="218.6,1485.5 229.2,1503.9 207.9,1503.9"/>
<polygon points="211,1485.6 221.7,1504 200.4,1504"/>
<polygon points="203.5,1485.6 214.1,1504 192.8,1504"/>
<polygon points="195.9,1485.6 206.6,1504 185.3,1504"/>
<polygon points="188.4,1485.6 199,1504 177.7,1504"/>
<polygon points="180.8,1485.6 191.5,1504 170.2,1504"/>
<polygon points="173.3,1485.6 183.9,1504 162.6,1504"/>
<polygon points="165.7,1485.6 176.4,1504 155.1,1504"/>
<polygon points="158.2,1485.6 168.8,1504 147.5,1504"/>
<polygon points="150.6,1485.6 161.3,1504 140,1504"/>
<polygon points="143.1,1485.6 153.8,1504 132.4,1504"/>
<polygon points="135.6,1485.6 146.2,1504 124.9,1504"/>
<polygon points="128,1485.6 138.7,1504 117.4,1504"/>
<polygon points="120.5,1485.6 131.1,1504 109.8,1504"/>
<polygon points="112.9,1485.6 123.6,1504 102.3,1504"/>
<polygon points="105.4,1485.6 116,1504 94.7,1504"/>
<polygon points="97.8,1485.6 108.5,1504 87.2,1504"/>
<polygon points="90.3,1485.6 100.9,1504 79.6,1504"/>
</g>
<polyline fill="none" stroke="#ff00ff" stroke-width="1.7" points="965.5,1492.9 958,1492.9 950.5,1492.9 942.9,1492.9 935.4,1492.9 927.8,1492.9 920.3,1492.9 912.7,1492.9 905.2,1492.9 897.6,1492.9 890.1,1492.9 882.5,1492.9 875,1492.9 867.5,1492.9 859.9,1492.9 852.4,1492.9 844.8,1492.9 837.3,1492.9 829.7,1492.9 822.2,1492.9 814.6,1492.9 807.1,1492.9 799.6,1492.9 792,1492.9 784.5,1492.9 776.9,1492.9 769.4,1492.9 761.8,1492.9 754.3,1493 746.7,1493 739.2,1493 731.6,1493 724.1,1493 716.6,1493 709,1493 701.5,1493 693.9,1493 686.4,1493 678.8,1493 671.3,1493 663.7,1493 656.2,1493.1 648.6,1493.1 641.1,1493.1 633.6,1493.1 626,1493.1 618.5,1493.1 610.9,1493.1 603.4,1493.1 595.8,1493.1 588.3,1493.1 580.7,1493.1 573.2,1493.2 565.6,1493.2 558.1,1493.2 550.6,1493.2 543,1493.2 535.5,1493.2 527.9,1493.2 520.4,1493.2 512.8,1493.2 505.3,1493.2 497.7,1493.3 490.2,1493.3 482.6,1493.3 475.1,1493.3 467.6,1493.3 460,1493.3 452.5,1493.3 444.9,1493.4 437.4,1493.4 429.8,1493.4 422.3,1493.4 414.7,1493.4 407.2,1493.5 399.6,1493.5 392.1,1493.5 384.6,1493.5 377,1493.5 369.5,1493.6 361.9,1493.6 354.4,1493.6 346.8,1493.6 339.3,1493.6 331.7,1493.7 324.2,1493.7 316.6,1493.7 309.1,1493.7 301.6,1493.8 294,1493.8 286.5,1493.8 278.9,1493.8 271.4,1493.8 263.8,1493.9 256.3,1493.9 248.7,1493.9 241.2,1493.9 233.6,1493.9 226.1,1493.9 218.6,1494 211,1494 203.5,1494 195.9,1494 188.4,1494 180.8,1494 173.3,1494 165.7,1494 158.2,1494.1 150.6,1494.1 143.1,1494.1 135.6,1494.1 128,1494.1 120.5,1494.1 112.9,1494.1 105.4,1494.1 97.8,1494.1 90.3,1494.1"/>
<g fill="#fff" stroke="#ff00ff" stroke-width="1.8" stroke-linejoin="miter">
<polygon points="965.5,1505.2 976.2,1486.7 954.9,1486.7"/>
<polygon points="958,1505.2 968.7,1486.7 947.4,1486.7"/>
<polygon points="950.5,1505.2 961.1,1486.7 939.8,1486.7"/>
<polygon points="942.9,1505.2 953.6,1486.7 932.3,1486.7"/>
<polygon points="935.4,1505.2 946,1486.7 924.7,1486.7"/>
<polygon points="927.8,1505.2 938.5,1486.7 917.2,1486.7"/>
<polygon points="920.3,1505.2 930.9,1486.7 909.6,1486.7"/>
<polygon points="912.7,1505.2 923.4,1486.7 902.1,1486.7"/>
<polygon points="905.2,1505.2 915.8,1486.7 894.5,1486.7"/>
<polygon points="897.6,1505.2 908.3,1486.7 887,1486.7"/>
<polygon points="890.1,1505.2 900.7,1486.7 879.4,1486.7"/>
<polygon points="882.5,1505.2 893.2,1486.7 871.9,1486.7"/>
<polygon points="875,1505.2 885.7,1486.7 864.4,1486.7"/>
<polygon points="867.5,1505.2 878.1,1486.7 856.8,1486.7"/>
<polygon points="859.9,1505.2 870.6,1486.7 849.3,1486.7"/>
<polygon points="852.4,1505.2 863,1486.7 841.7,1486.7"/>
<polygon points="844.8,1505.2 855.5,1486.7 834.2,1486.7"/>
<polygon points="837.3,1505.2 847.9,1486.7 826.6,1486.7"/>
<polygon points="829.7,1505.2 840.4,1486.7 819.1,1486.7"/>
<polygon points="822.2,1505.2 832.8,1486.8 811.5,1486.8"/>
<polygon points="814.6,1505.2 825.3,1486.8 804,1486.8"/>
<polygon points="807.1,1505.2 817.7,1486.8 796.4,1486.8"/>
<polygon points="799.6,1505.2 810.2,1486.8 788.9,1486.8"/>
<polygon points="792,1505.2 802.7,1486.8 781.4,1486.8"/>
<polygon points="784.5,1505.2 795.1,1486.8 773.8,1486.8"/>
<polygon points="776.9,1505.2 787.6,1486.8 766.3,1486.8"/>
<polygon points="769.4,1505.2 780,1486.8 758.7,1486.8"/>
<polygon points="761.8,1505.2 772.5,1486.8 751.2,1486.8"/>
<polygon points="754.3,1505.3 764.9,1486.8 743.6,1486.8"/>
<polygon points="746.7,1505.3 757.4,1486.8 736.1,1486.8"/>
<polygon points="739.2,1505.3 749.8,1486.8 728.5,1486.8"/>
<polygon points="731.6,1505.3 742.3,1486.8 721,1486.8"/>
<polygon points="724.1,1505.3 734.7,1486.8 713.4,1486.8"/>
<polygon points="716.6,1505.3 727.2,1486.8 705.9,1486.8"/>
<polygon points="709,1505.3 719.7,1486.8 698.4,1486.8"/>
<polygon points="701.5,1505.3 712.1,1486.9 690.8,1486.9"/>
<polygon points="693.9,1505.3 704.6,1486.9 683.3,1486.9"/>
<polygon points="686.4,1505.3 697,1486.9 675.7,1486.9"/>
<polygon points="678.8,1505.3 689.5,1486.9 668.2,1486.9"/>
<polygon points="671.3,1505.3 681.9,1486.9 660.6,1486.9"/>
<polygon points="663.7,1505.3 674.4,1486.9 653.1,1486.9"/>
<polygon points="656.2,1505.4 666.8,1486.9 645.5,1486.9"/>
<polygon points="648.6,1505.4 659.3,1486.9 638,1486.9"/>
<polygon points="641.1,1505.4 651.7,1486.9 630.4,1486.9"/>
<polygon points="633.6,1505.4 644.2,1486.9 622.9,1486.9"/>
<polygon points="626,1505.4 636.7,1486.9 615.4,1486.9"/>
<polygon points="618.5,1505.4 629.1,1486.9 607.8,1486.9"/>
<polygon points="610.9,1505.4 621.6,1487 600.3,1487"/>
<polygon points="603.4,1505.4 614,1487 592.7,1487"/>
<polygon points="595.8,1505.4 606.5,1487 585.2,1487"/>
<polygon points="588.3,1505.4 598.9,1487 577.6,1487"/>
<polygon points="580.7,1505.4 591.4,1487 570.1,1487"/>
<polygon points="573.2,1505.5 583.8,1487 562.5,1487"/>
<polygon points="565.6,1505.5 576.3,1487 555,1487"/>
<polygon points="558.1,1505.5 568.7,1487 547.4,1487"/>
<polygon points="550.6,1505.5 561.2,1487 539.9,1487"/>
<polygon points="543,1505.5 553.7,1487 532.4,1487"/>
<polygon points="535.5,1505.5 546.1,1487 524.8,1487"/>
<polygon points="527.9,1505.5 538.6,1487.1 517.3,1487.1"/>
<polygon points="520.4,1505.5 531,1487.1 509.7,1487.1"/>
<polygon points="512.8,1505.5 523.5,1487.1 502.2,1487.1"/>
<polygon points="505.3,1505.5 515.9,1487.1 494.6,1487.1"/>
<polygon points="497.7,1505.6 508.4,1487.1 487.1,1487.1"/>
<polygon points="490.2,1505.6 500.8,1487.1 479.5,1487.1"/>
<polygon points="482.6,1505.6 493.3,1487.1 472,1487.1"/>
<polygon points="475.1,1505.6 485.8,1487.1 464.4,1487.1"/>
<polygon points="467.6,1505.6 478.2,1487.2 456.9,1487.2"/>
<polygon points="460,1505.6 470.7,1487.2 449.4,1487.2"/>
<polygon points="452.5,1505.6 463.1,1487.2 441.8,1487.2"/>
<polygon points="444.9,1505.7 455.6,1487.2 434.3,1487.2"/>
<polygon points="437.4,1505.7 448,1487.2 426.7,1487.2"/>
<polygon points="429.8,1505.7 440.5,1487.2 419.2,1487.2"/>
<polygon points="422.3,1505.7 432.9,1487.3 411.6,1487.3"/>
<polygon points="414.7,1505.7 425.4,1487.3 404.1,1487.3"/>
<polygon points="407.2,1505.8 417.8,1487.3 396.5,1487.3"/>
<polygon points="399.6,1505.8 410.3,1487.3 389,1487.3"/>
<polygon points="392.1,1505.8 402.8,1487.3 381.4,1487.3"/>
<polygon points="384.6,1505.8 395.2,1487.4 373.9,1487.4"/>
<polygon points="377,1505.8 387.7,1487.4 366.4,1487.4"/>
<polygon points="369.5,1505.9 380.1,1487.4 358.8,1487.4"/>
<polygon points="361.9,1505.9 372.6,1487.4 351.3,1487.4"/>
<polygon points="354.4,1505.9 365,1487.5 343.7,1487.5"/>
<polygon points="346.8,1505.9 357.5,1487.5 336.2,1487.5"/>
<polygon points="339.3,1505.9 349.9,1487.5 328.6,1487.5"/>
<polygon points="331.7,1506 342.4,1487.5 321.1,1487.5"/>
<polygon points="324.2,1506 334.8,1487.5 313.5,1487.5"/>
<polygon points="316.6,1506 327.3,1487.6 306,1487.6"/>
<polygon points="309.1,1506 319.8,1487.6 298.4,1487.6"/>
<polygon points="301.6,1506.1 312.2,1487.6 290.9,1487.6"/>
<polygon points="294,1506.1 304.7,1487.6 283.4,1487.6"/>
<polygon points="286.5,1506.1 297.1,1487.6 275.8,1487.6"/>
<polygon points="278.9,1506.1 289.6,1487.7 268.3,1487.7"/>
<polygon points="271.4,1506.1 282,1487.7 260.7,1487.7"/>
<polygon points="263.8,1506.2 274.5,1487.7 253.2,1487.7"/>
<polygon points="256.3,1506.2 266.9,1487.7 245.6,1487.7"/>
<polygon points="248.7,1506.2 259.4,1487.7 238.1,1487.7"/>
<polygon points="241.2,1506.2 251.8,1487.8 230.5,1487.8"/>
<polygon points="233.6,1506.2 244.3,1487.8 223,1487.8"/>
<polygon points="226.1,1506.2 236.8,1487.8 215.4,1487.8"/>
<polygon points="218.6,1506.3 229.2,1487.8 207.9,1487.8"/>
<polygon points="211,1506.3 221.7,1487.8 200.4,1487.8"/>
<polygon points="203.5,1506.3 214.1,1487.8 192.8,1487.8"/>
<polygon points="195.9,1506.3 206.6,1487.8 185.3,1487.8"/>
<polygon points="188.4,1506.3 199,1487.9 177.7,1487.9"/>
<polygon points="180.8,1506.3 191.5,1487.9 170.2,1487.9"/>
<polygon points="173.3,1506.3 183.9,1487.9 162.6,1487.9"/>
<polygon points="165.7,1506.3 176.4,1487.9 155.1,1487.9"/>
<polygon points="158.2,1506.4 168.8,1487.9 147.5,1487.9"/>
<polygon points="150.6,1506.4 161.3,1487.9 140,1487.9"/>
<polygon points="143.1,1506.4 153.8,1487.9 132.4,1487.9"/>
<polygon points="135.6,1506.4 146.2,1487.9 124.9,1487.9"/>
<polygon points="128,1506.4 138.7,1487.9 117.4,1487.9"/>
<polygon points="120.5,1506.4 131.1,1487.9 109.8,1487.9"/>
<polygon points="112.9,1506.4 123.6,1487.9 102.3,1487.9"/>
<polygon points="105.4,1506.4 116,1487.9 94.7,1487.9"/>
<polygon points="97.8,1506.4 108.5,1487.9 87.2,1487.9"/>
<polygon points="90.3,1506.4 100.9,1487.9 79.6,1487.9"/>
</g>
</g>
<line x1="359.9" y1="986" x2="359.9" y2="1530" stroke="#5a5a5a" stroke-width="1.8" stroke-dasharray="1.4 4.2"/>
<line x1="563.2" y1="1194" x2="563.2" y2="1530" stroke="#5a5a5a" stroke-width="1.8" stroke-dasharray="1.4 4.2"/>
<path d="M113.5 923.5 V1531.5 H943.5 V923.5 Z" fill="none" stroke="#000" stroke-width="3" stroke-linejoin="miter"/>
<text x="99.2" y="1539.4" font-size="32" text-anchor="end">0.0</text>
<line x1="113.5" y1="1357.6" x2="127" y2="1357.6" stroke="#000" stroke-width="3"/>
<text x="99.2" y="1365.1" font-size="32" text-anchor="end">0.2</text>
<line x1="113.5" y1="1184.3" x2="127" y2="1184.3" stroke="#000" stroke-width="3"/>
<text x="99.2" y="1191.8" font-size="32" text-anchor="end">0.4</text>
<line x1="113.5" y1="1011" x2="127" y2="1011" stroke="#000" stroke-width="3"/>
<text x="99.2" y="1018.5" font-size="32" text-anchor="end">0.6</text>
<line x1="227.4" y1="1531.5" x2="227.4" y2="1518" stroke="#000" stroke-width="3"/>
<text x="227.4" y="1567.8" font-size="32" text-anchor="middle">700</text>
<line x1="416" y1="1531.5" x2="416" y2="1518" stroke="#000" stroke-width="3"/>
<text x="416" y="1567.8" font-size="32" text-anchor="middle">650</text>
<line x1="604.7" y1="1531.5" x2="604.7" y2="1518" stroke="#000" stroke-width="3"/>
<text x="604.7" y="1567.8" font-size="32" text-anchor="middle">600</text>
<line x1="793.3" y1="1531.5" x2="793.3" y2="1518" stroke="#000" stroke-width="3"/>
<text x="793.3" y="1567.8" font-size="32" text-anchor="middle">550</text>
<text x="356.3" y="963.5" font-size="32" text-anchor="middle">664</text>
<text x="562.4" y="1172" font-size="32" text-anchor="middle">612</text>
<text x="528.6" y="1625.8" font-size="34" font-weight="bold" text-anchor="middle" letter-spacing="0.5">Wavelength (nm)</text>
<text transform="translate(38.4 1251) rotate(-90)" x="0.2" y="0" font-size="34.4" font-weight="bold" text-anchor="middle" letter-spacing="0.4">Absorbance (arb. unit)</text>
<text x="511.4" y="1696.9" font-size="48.5" text-anchor="middle">(<tspan font-weight="bold">b</tspan>)</text>
<rect x="453.3" y="871.5" width="553.9" height="171.7" fill="none" stroke="#555" stroke-width="1.5"/>
<line x1="465.7" y1="897.5" x2="538.3" y2="897.5" stroke="#000000" stroke-width="1.4"/>
<g fill="#fff" stroke="#000000" stroke-width="1.8"><rect x="492.9" y="889.9" width="16.2" height="15.2"/></g>
<text x="545.5" y="908" font-size="35">MB Solution</text>
<line x1="465.7" y1="940.5" x2="538.3" y2="940.5" stroke="#ff0000" stroke-width="1.4"/>
<g fill="#fff" stroke="#ff0000" stroke-width="1.8"><polygon points="509.7,944.1 504.6,949.2 497.4,949.2 492.3,944.1 492.3,936.9 497.4,931.8 504.6,931.8 509.7,936.9"/></g>
<text x="545.5" y="950.8" font-size="35">Untreated TAV_2h</text>
<line x1="465.7" y1="983.7" x2="538.3" y2="983.7" stroke="#0000ff" stroke-width="1.4"/>
<g fill="#fff" stroke="#0000ff" stroke-width="1.8"><polygon points="501,971.4 511.7,989.9 490.3,989.9"/></g>
<text x="545.5" y="993.8" font-size="35">10 mol/L-KOH treated TAV_2h</text>
<line x1="465.7" y1="1024.5" x2="538.3" y2="1024.5" stroke="#ff00ff" stroke-width="1.4"/>
<g fill="#fff" stroke="#ff00ff" stroke-width="1.8"><polygon points="501,1036.8 511.7,1018.4 490.3,1018.4"/></g>
<text x="545.5" y="1035.2" font-size="32.6">Blank</text>
<clipPath id="clipc"><rect x="115" y="1794" width="843" height="624"/></clipPath>
<g clip-path="url(#clipc)">
<polyline fill="none" stroke="#000000" stroke-width="1.7" points="982.5,2363.6 974.8,2363.4 967.1,2363.2 959.4,2362.9 951.7,2362.5 944,2362.2 936.3,2361.8 928.7,2361.3 921,2360.7 913.3,2360.1 905.6,2359.4 897.9,2358.6 890.2,2357.7 882.5,2356.7 874.8,2355.7 867.1,2354.5 859.4,2353 851.7,2351.3 844,2348.8 836.3,2346.4 828.6,2344.8 820.9,2342 813.2,2339 805.5,2334.9 797.9,2331.5 790.2,2328.4 782.5,2324.4 774.8,2320.3 767.1,2316.2 759.4,2312.2 751.7,2308.1 744,2304.1 736.3,2297.9 728.6,2293.2 720.9,2288.2 713.2,2283 705.5,2275.5 697.8,2270.4 690.1,2261.3 682.4,2255.1 674.8,2244 667.1,2233.9 659.4,2221.7 651.7,2206 644,2197.2 636.3,2185.4 628.6,2165.1 620.9,2149.8 613.2,2137.5 605.5,2128.4 597.8,2109 590.1,2096.9 582.4,2089.1 574.7,2084.1 567,2077.6 559.3,2075 551.6,2073.4 544,2073.3 536.3,2074.9 528.6,2076.6 520.9,2078.2 513.2,2079.7 505.5,2080 497.8,2079.6 490.1,2074.5 482.4,2068 474.7,2060.6 467,2052.1 459.3,2037.9 451.6,2024.6 443.9,2004.6 436.2,1989.2 428.5,1977 420.9,1952.8 413.2,1935.5 405.5,1918.2 397.8,1904.1 390.1,1889.6 382.4,1878.4 374.7,1864.6 367,1860.4 359.3,1857.4 351.6,1863.4 343.9,1876.3 336.2,1898.4 328.5,1928.4 320.8,1958.8 313.1,2024.4 305.4,2058.2 297.7,2099.6 290.1,2137.8 282.4,2168.1 274.7,2215.9 267,2247.4 259.3,2270.2 251.6,2286.4 243.9,2309.8 236.2,2323.2 228.5,2334.7 220.8,2339.6 213.1,2347.5 205.4,2354.8 197.7,2359.7 190,2364 182.3,2366.3 174.6,2368.8 166.9,2371.3 159.3,2372.5 151.6,2374.9 143.9,2376.2 136.2,2376.5 128.5,2376.6 120.8,2376.9 113.1,2377.1 105.4,2377.1 97.7,2377.1 90,2377.1"/>
<g fill="#fff" stroke="#000000" stroke-width="1.8" stroke-linejoin="miter">
<rect x="974.1" y="2355.6" width="16.8" height="16"/>
<rect x="966.4" y="2355.4" width="16.8" height="16"/>
<rect x="958.7" y="2355.2" width="16.8" height="16"/>
<rect x="951" y="2354.9" width="16.8" height="16"/>
<rect x="943.3" y="2354.5" width="16.8" height="16"/>
<rect x="935.6" y="2354.2" width="16.8" height="16"/>
<rect x="927.9" y="2353.8" width="16.8" height="16"/>
<rect x="920.3" y="2353.3" width="16.8" height="16"/>
<rect x="912.6" y="2352.7" width="16.8" height="16"/>
<rect x="904.9" y="2352.1" width="16.8" height="16"/>
<rect x="897.2" y="2351.4" width="16.8" height="16"/>
<rect x="889.5" y="2350.6" width="16.8" height="16"/>
<rect x="881.8" y="2349.7" width="16.8" height="16"/>
<rect x="874.1" y="2348.7" width="16.8" height="16"/>
<rect x="866.4" y="2347.7" width="16.8" height="16"/>
<rect x="858.7" y="2346.5" width="16.8" height="16"/>
<rect x="851" y="2345" width="16.8" height="16"/>
<rect x="843.3" y="2343.3" width="16.8" height="16"/>
<rect x="835.6" y="2340.8" width="16.8" height="16"/>
<rect x="827.9" y="2338.4" width="16.8" height="16"/>
<rect x="820.2" y="2336.8" width="16.8" height="16"/>
<rect x="812.5" y="2334" width="16.8" height="16"/>
<rect x="804.8" y="2331" width="16.8" height="16"/>
<rect x="797.1" y="2326.9" width="16.8" height="16"/>
<rect x="789.5" y="2323.5" width="16.8" height="16"/>
<rect x="781.8" y="2320.4" width="16.8" height="16"/>
<rect x="774.1" y="2316.4" width="16.8" height="16"/>
<rect x="766.4" y="2312.3" width="16.8" height="16"/>
<rect x="758.7" y="2308.2" width="16.8" height="16"/>
<rect x="751" y="2304.2" width="16.8" height="16"/>
<rect x="743.3" y="2300.1" width="16.8" height="16"/>
<rect x="735.6" y="2296.1" width="16.8" height="16"/>
<rect x="727.9" y="2289.9" width="16.8" height="16"/>
<rect x="720.2" y="2285.2" width="16.8" height="16"/>
<rect x="712.5" y="2280.2" width="16.8" height="16"/>
<rect x="704.8" y="2275" width="16.8" height="16"/>
<rect x="697.1" y="2267.5" width="16.8" height="16"/>
<rect x="689.4" y="2262.4" width="16.8" height="16"/>
<rect x="681.7" y="2253.3" width="16.8" height="16"/>
<rect x="674" y="2247.1" width="16.8" height="16"/>
<rect x="666.4" y="2236" width="16.8" height="16"/>
<rect x="658.7" y="2225.9" width="16.8" height="16"/>
<rect x="651" y="2213.7" width="16.8" height="16"/>
<rect x="643.3" y="2198" width="16.8" height="16"/>
<rect x="635.6" y="2189.2" width="16.8" height="16"/>
<rect x="627.9" y="2177.4" width="16.8" height="16"/>
<rect x="620.2" y="2157.1" width="16.8" height="16"/>
<rect x="612.5" y="2141.8" width="16.8" height="16"/>
<rect x="604.8" y="2129.5" width="16.8" height="16"/>
<rect x="597.1" y="2120.4" width="16.8" height="16"/>
<rect x="589.4" y="2101" width="16.8" height="16"/>
<rect x="581.7" y="2088.9" width="16.8" height="16"/>
<rect x="574" y="2081.1" width="16.8" height="16"/>
<rect x="566.3" y="2076.1" width="16.8" height="16"/>
<rect x="558.6" y="2069.6" width="16.8" height="16"/>
<rect x="550.9" y="2067" width="16.8" height="16"/>
<rect x="543.2" y="2065.4" width="16.8" height="16"/>
<rect x="535.6" y="2065.3" width="16.8" height="16"/>
<rect x="527.9" y="2066.9" width="16.8" height="16"/>
<rect x="520.2" y="2068.6" width="16.8" height="16"/>
<rect x="512.5" y="2070.2" width="16.8" height="16"/>
<rect x="504.8" y="2071.7" width="16.8" height="16"/>
<rect x="497.1" y="2072" width="16.8" height="16"/>
<rect x="489.4" y="2071.6" width="16.8" height="16"/>
<rect x="481.7" y="2066.5" width="16.8" height="16"/>
<rect x="474" y="2060" width="16.8" height="16"/>
<rect x="466.3" y="2052.6" width="16.8" height="16"/>
<rect x="458.6" y="2044.1" width="16.8" height="16"/>
<rect x="450.9" y="2029.9" width="16.8" height="16"/>
<rect x="443.2" y="2016.6" width="16.8" height="16"/>
<rect x="435.5" y="1996.6" width="16.8" height="16"/>
<rect x="427.8" y="1981.2" width="16.8" height="16"/>
<rect x="420.1" y="1969" width="16.8" height="16"/>
<rect x="412.5" y="1944.8" width="16.8" height="16"/>
<rect x="404.8" y="1927.5" width="16.8" height="16"/>
<rect x="397.1" y="1910.2" width="16.8" height="16"/>
<rect x="389.4" y="1896.1" width="16.8" height="16"/>
<rect x="381.7" y="1881.6" width="16.8" height="16"/>
<rect x="374" y="1870.4" width="16.8" height="16"/>
<rect x="366.3" y="1856.6" width="16.8" height="16"/>
<rect x="358.6" y="1852.4" width="16.8" height="16"/>
<rect x="350.9" y="1849.4" width="16.8" height="16"/>
<rect x="343.2" y="1855.4" width="16.8" height="16"/>
<rect x="335.5" y="1868.3" width="16.8" height="16"/>
<rect x="327.8" y="1890.4" width="16.8" height="16"/>
<rect x="320.1" y="1920.4" width="16.8" height="16"/>
<rect x="312.4" y="1950.8" width="16.8" height="16"/>
<rect x="304.7" y="2016.4" width="16.8" height="16"/>
<rect x="297" y="2050.2" width="16.8" height="16"/>
<rect x="289.3" y="2091.6" width="16.8" height="16"/>
<rect x="281.7" y="2129.8" width="16.8" height="16"/>
<rect x="274" y="2160.1" width="16.8" height="16"/>
<rect x="266.3" y="2207.9" width="16.8" height="16"/>
<rect x="258.6" y="2239.4" width="16.8" height="16"/>
<rect x="250.9" y="2262.2" width="16.8" height="16"/>
<rect x="243.2" y="2278.4" width="16.8" height="16"/>
<rect x="235.5" y="2301.8" width="16.8" height="16"/>
<rect x="227.8" y="2315.2" width="16.8" height="16"/>
<rect x="220.1" y="2326.7" width="16.8" height="16"/>
<rect x="212.4" y="2331.6" width="16.8" height="16"/>
<rect x="204.7" y="2339.5" width="16.8" height="16"/>
<rect x="197" y="2346.8" width="16.8" height="16"/>
<rect x="189.3" y="2351.7" width="16.8" height="16"/>
<rect x="181.6" y="2356" width="16.8" height="16"/>
<rect x="173.9" y="2358.3" width="16.8" height="16"/>
<rect x="166.2" y="2360.8" width="16.8" height="16"/>
<rect x="158.5" y="2363.3" width="16.8" height="16"/>
<rect x="150.9" y="2364.5" width="16.8" height="16"/>
<rect x="143.2" y="2366.9" width="16.8" height="16"/>
<rect x="135.5" y="2368.2" width="16.8" height="16"/>
<rect x="127.8" y="2368.5" width="16.8" height="16"/>
<rect x="120.1" y="2368.6" width="16.8" height="16"/>
<rect x="112.4" y="2368.9" width="16.8" height="16"/>
<rect x="104.7" y="2369.1" width="16.8" height="16"/>
<rect x="97" y="2369.1" width="16.8" height="16"/>
<rect x="89.3" y="2369.1" width="16.8" height="16"/>
<rect x="81.6" y="2369.1" width="16.8" height="16"/>
</g>
<polyline fill="none" stroke="#ff0000" stroke-width="1.7" points="982.5,2367.2 974.8,2367.1 967.1,2366.8 959.4,2366.6 951.7,2366.2 944,2365.8 936.3,2365.3 928.7,2364.7 921,2364.1 913.3,2363.4 905.6,2362.6 897.9,2361.8 890.2,2360.9 882.5,2360 874.8,2359.1 867.1,2358.1 859.4,2357 851.7,2355.8 844,2354.4 836.3,2352.9 828.6,2351.2 820.9,2349.2 813.2,2346.4 805.5,2342.8 797.9,2338.9 790.2,2334.7 782.5,2330.7 774.8,2327.1 767.1,2324 759.4,2320.2 751.7,2315.3 744,2312.4 736.3,2308.5 728.6,2301.9 720.9,2297.3 713.2,2292.5 705.5,2286.8 697.8,2278.4 690.1,2271.5 682.4,2262.5 674.8,2251.9 667.1,2241.6 659.4,2229.8 651.7,2219.8 644,2208 636.3,2194.6 628.6,2177.9 620.9,2166.1 613.2,2151.2 605.5,2140.7 597.8,2125.6 590.1,2118.9 582.4,2113.9 574.7,2109.1 567,2100.7 559.3,2095.7 551.6,2095.7 544,2095.7 536.3,2096.8 528.6,2098.5 520.9,2100.7 513.2,2101.9 505.5,2102.4 497.8,2101.4 490.1,2099.5 482.4,2095.7 474.7,2087.3 467,2077.3 459.3,2062.2 451.6,2052.1 443.9,2032.9 436.2,2022.8 428.5,2011.2 420.9,1989.3 413.2,1974.3 405.5,1959.1 397.8,1942.3 390.1,1934 382.4,1923.9 374.7,1915.5 367,1910.5 359.3,1908.8 351.6,1915.5 343.9,1928.9 336.2,1944 328.5,1972.5 320.8,2009.4 313.1,2057.4 305.4,2097.6 297.7,2125.1 290.1,2168.7 282.4,2195.5 274.7,2229.1 267,2265.3 259.3,2285.4 251.6,2299.5 243.9,2316.3 236.2,2329.7 228.5,2340 220.8,2346.3 213.1,2351.1 205.4,2354.6 197.7,2357.3 190,2361.8 182.3,2366.3 174.6,2369.4 166.9,2371.7 159.3,2373.2 151.6,2374.4 143.9,2375.3 136.2,2376 128.5,2376.5 120.8,2376.9 113.1,2377.1 105.4,2377.1 97.7,2377.1 90,2377.1"/>
<g fill="#fff" stroke="#ff0000" stroke-width="1.8" stroke-linejoin="miter">
<polygon points="991.5,2370.9 986.2,2376.2 978.8,2376.2 973.5,2370.9 973.5,2363.5 978.8,2358.2 986.2,2358.2 991.5,2363.5"/>
<polygon points="983.8,2370.8 978.5,2376.1 971.1,2376.1 965.8,2370.8 965.8,2363.3 971.1,2358.1 978.5,2358.1 983.8,2363.3"/>
<polygon points="976.1,2370.6 970.9,2375.8 963.4,2375.8 958.1,2370.6 958.1,2363.1 963.4,2357.8 970.9,2357.8 976.1,2363.1"/>
<polygon points="968.4,2370.3 963.2,2375.6 955.7,2375.6 950.4,2370.3 950.4,2362.8 955.7,2357.6 963.2,2357.6 968.4,2362.8"/>
<polygon points="960.7,2370 955.5,2375.2 948,2375.2 942.7,2370 942.7,2362.5 948,2357.2 955.5,2357.2 960.7,2362.5"/>
<polygon points="953,2369.5 947.8,2374.8 940.3,2374.8 935,2369.5 935,2362.1 940.3,2356.8 947.8,2356.8 953,2362.1"/>
<polygon points="945.3,2369 940.1,2374.3 932.6,2374.3 927.3,2369 927.3,2361.6 932.6,2356.3 940.1,2356.3 945.3,2361.6"/>
<polygon points="937.7,2368.5 932.4,2373.7 924.9,2373.7 919.7,2368.5 919.7,2361 924.9,2355.7 932.4,2355.7 937.7,2361"/>
<polygon points="930,2367.8 924.7,2373.1 917.2,2373.1 912,2367.8 912,2360.4 917.2,2355.1 924.7,2355.1 930,2360.4"/>
<polygon points="922.3,2367.1 917,2372.4 909.5,2372.4 904.3,2367.1 904.3,2359.6 909.5,2354.4 917,2354.4 922.3,2359.6"/>
<polygon points="914.6,2366.3 909.3,2371.6 901.8,2371.6 896.6,2366.3 896.6,2358.9 901.8,2353.6 909.3,2353.6 914.6,2358.9"/>
<polygon points="906.9,2365.5 901.6,2370.8 894.2,2370.8 888.9,2365.5 888.9,2358 894.2,2352.8 901.6,2352.8 906.9,2358"/>
<polygon points="899.2,2364.6 893.9,2369.9 886.5,2369.9 881.2,2364.6 881.2,2357.2 886.5,2351.9 893.9,2351.9 899.2,2357.2"/>
<polygon points="891.5,2363.8 886.2,2369 878.8,2369 873.5,2363.8 873.5,2356.3 878.8,2351 886.2,2351 891.5,2356.3"/>
<polygon points="883.8,2362.8 878.5,2368.1 871.1,2368.1 865.8,2362.8 865.8,2355.4 871.1,2350.1 878.5,2350.1 883.8,2355.4"/>
<polygon points="876.1,2361.8 870.8,2367.1 863.4,2367.1 858.1,2361.8 858.1,2354.4 863.4,2349.1 870.8,2349.1 876.1,2354.4"/>
<polygon points="868.4,2360.7 863.1,2366 855.7,2366 850.4,2360.7 850.4,2353.3 855.7,2348 863.1,2348 868.4,2353.3"/>
<polygon points="860.7,2359.5 855.4,2364.8 848,2364.8 842.7,2359.5 842.7,2352.1 848,2346.8 855.4,2346.8 860.7,2352.1"/>
<polygon points="853,2358.2 847.7,2363.4 840.3,2363.4 835,2358.2 835,2350.7 840.3,2345.4 847.7,2345.4 853,2350.7"/>
<polygon points="845.3,2356.6 840.1,2361.9 832.6,2361.9 827.3,2356.6 827.3,2349.2 832.6,2343.9 840.1,2343.9 845.3,2349.2"/>
<polygon points="837.6,2354.9 832.4,2360.2 824.9,2360.2 819.6,2354.9 819.6,2347.5 824.9,2342.2 832.4,2342.2 837.6,2347.5"/>
<polygon points="829.9,2352.9 824.7,2358.2 817.2,2358.2 811.9,2352.9 811.9,2345.5 817.2,2340.2 824.7,2340.2 829.9,2345.5"/>
<polygon points="822.2,2350.1 817,2355.4 809.5,2355.4 804.2,2350.1 804.2,2342.7 809.5,2337.4 817,2337.4 822.2,2342.7"/>
<polygon points="814.5,2346.6 809.3,2351.8 801.8,2351.8 796.5,2346.6 796.5,2339.1 801.8,2333.8 809.3,2333.8 814.5,2339.1"/>
<polygon points="806.9,2342.6 801.6,2347.9 794.1,2347.9 788.9,2342.6 788.9,2335.1 794.1,2329.9 801.6,2329.9 806.9,2335.1"/>
<polygon points="799.2,2338.5 793.9,2343.7 786.4,2343.7 781.2,2338.5 781.2,2331 786.4,2325.7 793.9,2325.7 799.2,2331"/>
<polygon points="791.5,2334.4 786.2,2339.7 778.7,2339.7 773.5,2334.4 773.5,2327 778.7,2321.7 786.2,2321.7 791.5,2327"/>
<polygon points="783.8,2330.8 778.5,2336.1 771,2336.1 765.8,2330.8 765.8,2323.3 771,2318.1 778.5,2318.1 783.8,2323.3"/>
<polygon points="776.1,2327.7 770.8,2333 763.4,2333 758.1,2327.7 758.1,2320.3 763.4,2315 770.8,2315 776.1,2320.3"/>
<polygon points="768.4,2323.9 763.1,2329.2 755.7,2329.2 750.4,2323.9 750.4,2316.4 755.7,2311.2 763.1,2311.2 768.4,2316.4"/>
<polygon points="760.7,2319 755.4,2324.3 748,2324.3 742.7,2319 742.7,2311.6 748,2306.3 755.4,2306.3 760.7,2311.6"/>
<polygon points="753,2316.1 747.7,2321.4 740.3,2321.4 735,2316.1 735,2308.7 740.3,2303.4 747.7,2303.4 753,2308.7"/>
<polygon points="745.3,2312.2 740,2317.5 732.6,2317.5 727.3,2312.2 727.3,2304.7 732.6,2299.5 740,2299.5 745.3,2304.7"/>
<polygon points="737.6,2305.7 732.3,2310.9 724.9,2310.9 719.6,2305.7 719.6,2298.2 724.9,2292.9 732.3,2292.9 737.6,2298.2"/>
<polygon points="729.9,2301 724.6,2306.3 717.2,2306.3 711.9,2301 711.9,2293.6 717.2,2288.3 724.6,2288.3 729.9,2293.6"/>
<polygon points="722.2,2296.2 716.9,2301.5 709.5,2301.5 704.2,2296.2 704.2,2288.7 709.5,2283.5 716.9,2283.5 722.2,2288.7"/>
<polygon points="714.5,2290.5 709.3,2295.8 701.8,2295.8 696.5,2290.5 696.5,2283 701.8,2277.8 709.3,2277.8 714.5,2283"/>
<polygon points="706.8,2282.1 701.6,2287.4 694.1,2287.4 688.8,2282.1 688.8,2274.7 694.1,2269.4 701.6,2269.4 706.8,2274.7"/>
<polygon points="699.1,2275.2 693.9,2280.5 686.4,2280.5 681.1,2275.2 681.1,2267.8 686.4,2262.5 693.9,2262.5 699.1,2267.8"/>
<polygon points="691.4,2266.3 686.2,2271.5 678.7,2271.5 673.4,2266.3 673.4,2258.8 678.7,2253.5 686.2,2253.5 691.4,2258.8"/>
<polygon points="683.8,2255.6 678.5,2260.9 671,2260.9 665.8,2255.6 665.8,2248.2 671,2242.9 678.5,2242.9 683.8,2248.2"/>
<polygon points="676.1,2245.3 670.8,2250.6 663.3,2250.6 658.1,2245.3 658.1,2237.9 663.3,2232.6 670.8,2232.6 676.1,2237.9"/>
<polygon points="668.4,2233.5 663.1,2238.8 655.6,2238.8 650.4,2233.5 650.4,2226.1 655.6,2220.8 663.1,2220.8 668.4,2226.1"/>
<polygon points="660.7,2223.5 655.4,2228.8 647.9,2228.8 642.7,2223.5 642.7,2216 647.9,2210.8 655.4,2210.8 660.7,2216"/>
<polygon points="653,2211.7 647.7,2217 640.2,2217 635,2211.7 635,2204.3 640.2,2199 647.7,2199 653,2204.3"/>
<polygon points="645.3,2198.3 640,2203.6 632.6,2203.6 627.3,2198.3 627.3,2190.9 632.6,2185.6 640,2185.6 645.3,2190.9"/>
<polygon points="637.6,2181.6 632.3,2186.9 624.9,2186.9 619.6,2181.6 619.6,2174.2 624.9,2168.9 632.3,2168.9 637.6,2174.2"/>
<polygon points="629.9,2169.8 624.6,2175.1 617.2,2175.1 611.9,2169.8 611.9,2162.3 617.2,2157.1 624.6,2157.1 629.9,2162.3"/>
<polygon points="622.2,2155 616.9,2160.2 609.5,2160.2 604.2,2155 604.2,2147.5 609.5,2142.2 616.9,2142.2 622.2,2147.5"/>
<polygon points="614.5,2144.5 609.2,2149.7 601.8,2149.7 596.5,2144.5 596.5,2137 601.8,2131.7 609.2,2131.7 614.5,2137"/>
<polygon points="606.8,2129.3 601.5,2134.6 594.1,2134.6 588.8,2129.3 588.8,2121.8 594.1,2116.6 601.5,2116.6 606.8,2121.8"/>
<polygon points="599.1,2122.6 593.8,2127.9 586.4,2127.9 581.1,2122.6 581.1,2115.1 586.4,2109.9 593.8,2109.9 599.1,2115.1"/>
<polygon points="591.4,2117.6 586.2,2122.9 578.7,2122.9 573.4,2117.6 573.4,2110.2 578.7,2104.9 586.2,2104.9 591.4,2110.2"/>
<polygon points="583.7,2112.9 578.5,2118.1 571,2118.1 565.7,2112.9 565.7,2105.4 571,2100.1 578.5,2100.1 583.7,2105.4"/>
<polygon points="576,2104.4 570.8,2109.7 563.3,2109.7 558,2104.4 558,2097 563.3,2091.7 570.8,2091.7 576,2097"/>
<polygon points="568.3,2099.4 563.1,2104.7 555.6,2104.7 550.3,2099.4 550.3,2091.9 555.6,2086.7 563.1,2086.7 568.3,2091.9"/>
<polygon points="560.6,2099.4 555.4,2104.7 547.9,2104.7 542.6,2099.4 542.6,2091.9 547.9,2086.7 555.4,2086.7 560.6,2091.9"/>
<polygon points="553,2099.5 547.7,2104.7 540.2,2104.7 535,2099.5 535,2092 540.2,2086.7 547.7,2086.7 553,2092"/>
<polygon points="545.3,2100.5 540,2105.8 532.5,2105.8 527.3,2100.5 527.3,2093 532.5,2087.8 540,2087.8 545.3,2093"/>
<polygon points="537.6,2102.2 532.3,2107.5 524.8,2107.5 519.6,2102.2 519.6,2094.7 524.8,2089.5 532.3,2089.5 537.6,2094.7"/>
<polygon points="529.9,2104.4 524.6,2109.7 517.1,2109.7 511.9,2104.4 511.9,2097 517.1,2091.7 524.6,2091.7 529.9,2097"/>
<polygon points="522.2,2105.6 516.9,2110.9 509.5,2110.9 504.2,2105.6 504.2,2098.1 509.5,2092.9 516.9,2092.9 522.2,2098.1"/>
<polygon points="514.5,2106.1 509.2,2111.4 501.8,2111.4 496.5,2106.1 496.5,2098.7 501.8,2093.4 509.2,2093.4 514.5,2098.7"/>
<polygon points="506.8,2105.2 501.5,2110.4 494.1,2110.4 488.8,2105.2 488.8,2097.7 494.1,2092.4 501.5,2092.4 506.8,2097.7"/>
<polygon points="499.1,2103.2 493.8,2108.5 486.4,2108.5 481.1,2103.2 481.1,2095.7 486.4,2090.5 493.8,2090.5 499.1,2095.7"/>
<polygon points="491.4,2099.4 486.1,2104.7 478.7,2104.7 473.4,2099.4 473.4,2091.9 478.7,2086.7 486.1,2086.7 491.4,2091.9"/>
<polygon points="483.7,2091 478.4,2096.3 471,2096.3 465.7,2091 465.7,2083.6 471,2078.3 478.4,2078.3 483.7,2083.6"/>
<polygon points="476,2081.1 470.7,2086.3 463.3,2086.3 458,2081.1 458,2073.6 463.3,2068.3 470.7,2068.3 476,2073.6"/>
<polygon points="468.3,2065.9 463,2071.2 455.6,2071.2 450.3,2065.9 450.3,2058.4 455.6,2053.2 463,2053.2 468.3,2058.4"/>
<polygon points="460.6,2055.8 455.4,2061.1 447.9,2061.1 442.6,2055.8 442.6,2048.4 447.9,2043.1 455.4,2043.1 460.6,2048.4"/>
<polygon points="452.9,2036.6 447.7,2041.9 440.2,2041.9 434.9,2036.6 434.9,2029.2 440.2,2023.9 447.7,2023.9 452.9,2029.2"/>
<polygon points="445.2,2026.6 440,2031.8 432.5,2031.8 427.2,2026.6 427.2,2019.1 432.5,2013.8 440,2013.8 445.2,2019.1"/>
<polygon points="437.5,2014.9 432.3,2020.2 424.8,2020.2 419.5,2014.9 419.5,2007.4 424.8,2002.2 432.3,2002.2 437.5,2007.4"/>
<polygon points="429.9,1993.1 424.6,1998.3 417.1,1998.3 411.9,1993.1 411.9,1985.6 417.1,1980.3 424.6,1980.3 429.9,1985.6"/>
<polygon points="422.2,1978 416.9,1983.3 409.4,1983.3 404.2,1978 404.2,1970.5 409.4,1965.3 416.9,1965.3 422.2,1970.5"/>
<polygon points="414.5,1962.8 409.2,1968.1 401.7,1968.1 396.5,1962.8 396.5,1955.3 401.7,1950.1 409.2,1950.1 414.5,1955.3"/>
<polygon points="406.8,1946 401.5,1951.3 394,1951.3 388.8,1946 388.8,1938.6 394,1933.3 401.5,1933.3 406.8,1938.6"/>
<polygon points="399.1,1937.7 393.8,1943 386.3,1943 381.1,1937.7 381.1,1930.3 386.3,1925 393.8,1925 399.1,1930.3"/>
<polygon points="391.4,1927.6 386.1,1932.9 378.7,1932.9 373.4,1927.6 373.4,1920.1 378.7,1914.9 386.1,1914.9 391.4,1920.1"/>
<polygon points="383.7,1919.2 378.4,1924.5 371,1924.5 365.7,1919.2 365.7,1911.8 371,1906.5 378.4,1906.5 383.7,1911.8"/>
<polygon points="376,1914.2 370.7,1919.5 363.3,1919.5 358,1914.2 358,1906.8 363.3,1901.5 370.7,1901.5 376,1906.8"/>
<polygon points="368.3,1912.5 363,1917.8 355.6,1917.8 350.3,1912.5 350.3,1905.1 355.6,1899.8 363,1899.8 368.3,1905.1"/>
<polygon points="360.6,1919.2 355.3,1924.5 347.9,1924.5 342.6,1919.2 342.6,1911.8 347.9,1906.5 355.3,1906.5 360.6,1911.8"/>
<polygon points="352.9,1932.6 347.6,1937.9 340.2,1937.9 334.9,1932.6 334.9,1925.2 340.2,1919.9 347.6,1919.9 352.9,1925.2"/>
<polygon points="345.2,1947.7 339.9,1953 332.5,1953 327.2,1947.7 327.2,1940.3 332.5,1935 339.9,1935 345.2,1940.3"/>
<polygon points="337.5,1976.3 332.2,1981.5 324.8,1981.5 319.5,1976.3 319.5,1968.8 324.8,1963.5 332.2,1963.5 337.5,1968.8"/>
<polygon points="329.8,2013.1 324.6,2018.4 317.1,2018.4 311.8,2013.1 311.8,2005.6 317.1,2000.4 324.6,2000.4 329.8,2005.6"/>
<polygon points="322.1,2061.1 316.9,2066.4 309.4,2066.4 304.1,2061.1 304.1,2053.7 309.4,2048.4 316.9,2048.4 322.1,2053.7"/>
<polygon points="314.4,2101.4 309.2,2106.6 301.7,2106.6 296.4,2101.4 296.4,2093.9 301.7,2088.6 309.2,2088.6 314.4,2093.9"/>
<polygon points="306.7,2128.8 301.5,2134.1 294,2134.1 288.7,2128.8 288.7,2121.4 294,2116.1 301.5,2116.1 306.7,2121.4"/>
<polygon points="299.1,2172.4 293.8,2177.7 286.3,2177.7 281.1,2172.4 281.1,2164.9 286.3,2159.7 293.8,2159.7 299.1,2164.9"/>
<polygon points="291.4,2199.2 286.1,2204.5 278.6,2204.5 273.4,2199.2 273.4,2191.8 278.6,2186.5 286.1,2186.5 291.4,2191.8"/>
<polygon points="283.7,2232.8 278.4,2238.1 270.9,2238.1 265.7,2232.8 265.7,2225.4 270.9,2220.1 278.4,2220.1 283.7,2225.4"/>
<polygon points="276,2269 270.7,2274.3 263.2,2274.3 258,2269 258,2261.6 263.2,2256.3 270.7,2256.3 276,2261.6"/>
<polygon points="268.3,2289.1 263,2294.4 255.5,2294.4 250.3,2289.1 250.3,2281.7 255.5,2276.4 263,2276.4 268.3,2281.7"/>
<polygon points="260.6,2303.2 255.3,2308.5 247.9,2308.5 242.6,2303.2 242.6,2295.8 247.9,2290.5 255.3,2290.5 260.6,2295.8"/>
<polygon points="252.9,2320 247.6,2325.3 240.2,2325.3 234.9,2320 234.9,2312.6 240.2,2307.3 247.6,2307.3 252.9,2312.6"/>
<polygon points="245.2,2333.4 239.9,2338.7 232.5,2338.7 227.2,2333.4 227.2,2326 232.5,2320.7 239.9,2320.7 245.2,2326"/>
<polygon points="237.5,2343.7 232.2,2349 224.8,2349 219.5,2343.7 219.5,2336.3 224.8,2331 232.2,2331 237.5,2336.3"/>
<polygon points="229.8,2350 224.5,2355.3 217.1,2355.3 211.8,2350 211.8,2342.6 217.1,2337.3 224.5,2337.3 229.8,2342.6"/>
<polygon points="222.1,2354.8 216.8,2360.1 209.4,2360.1 204.1,2354.8 204.1,2347.3 209.4,2342.1 216.8,2342.1 222.1,2347.3"/>
<polygon points="214.4,2358.3 209.1,2363.6 201.7,2363.6 196.4,2358.3 196.4,2350.8 201.7,2345.6 209.1,2345.6 214.4,2350.8"/>
<polygon points="206.7,2361.1 201.5,2366.3 194,2366.3 188.7,2361.1 188.7,2353.6 194,2348.3 201.5,2348.3 206.7,2353.6"/>
<polygon points="199,2365.6 193.8,2370.8 186.3,2370.8 181,2365.6 181,2358.1 186.3,2352.8 193.8,2352.8 199,2358.1"/>
<polygon points="191.3,2370 186.1,2375.3 178.6,2375.3 173.3,2370 173.3,2362.6 178.6,2357.3 186.1,2357.3 191.3,2362.6"/>
<polygon points="183.6,2373.2 178.4,2378.4 170.9,2378.4 165.6,2373.2 165.6,2365.7 170.9,2360.4 178.4,2360.4 183.6,2365.7"/>
<polygon points="175.9,2375.4 170.7,2380.7 163.2,2380.7 157.9,2375.4 157.9,2368 163.2,2362.7 170.7,2362.7 175.9,2368"/>
<polygon points="168.3,2377 163,2382.2 155.5,2382.2 150.3,2377 150.3,2369.5 155.5,2364.2 163,2364.2 168.3,2369.5"/>
<polygon points="160.6,2378.2 155.3,2383.4 147.8,2383.4 142.6,2378.2 142.6,2370.7 147.8,2365.4 155.3,2365.4 160.6,2370.7"/>
<polygon points="152.9,2379 147.6,2384.3 140.1,2384.3 134.9,2379 134.9,2371.6 140.1,2366.3 147.6,2366.3 152.9,2371.6"/>
<polygon points="145.2,2379.7 139.9,2385 132.4,2385 127.2,2379.7 127.2,2372.2 132.4,2367 139.9,2367 145.2,2372.2"/>
<polygon points="137.5,2380.3 132.2,2385.5 124.8,2385.5 119.5,2380.3 119.5,2372.8 124.8,2367.5 132.2,2367.5 137.5,2372.8"/>
<polygon points="129.8,2380.7 124.5,2385.9 117.1,2385.9 111.8,2380.7 111.8,2373.2 117.1,2367.9 124.5,2367.9 129.8,2373.2"/>
<polygon points="122.1,2380.8 116.8,2386.1 109.4,2386.1 104.1,2380.8 104.1,2373.4 109.4,2368.1 116.8,2368.1 122.1,2373.4"/>
<polygon points="114.4,2380.8 109.1,2386.1 101.7,2386.1 96.4,2380.8 96.4,2373.4 101.7,2368.1 109.1,2368.1 114.4,2373.4"/>
<polygon points="106.7,2380.8 101.4,2386.1 94,2386.1 88.7,2380.8 88.7,2373.4 94,2368.1 101.4,2368.1 106.7,2373.4"/>
<polygon points="99,2380.8 93.7,2386.1 86.3,2386.1 81,2380.8 81,2373.4 86.3,2368.1 93.7,2368.1 99,2373.4"/>
</g>
<polyline fill="none" stroke="#0000ff" stroke-width="1.7" points="982.5,2371.7 974.8,2371.7 967.1,2371.7 959.4,2371.7 951.7,2371.7 944,2371.6 936.3,2371.4 928.7,2371.2 921,2370.9 913.3,2370.5 905.6,2370.2 897.9,2369.8 890.2,2369.4 882.5,2369 874.8,2368.6 867.1,2368.2 859.4,2367.8 851.7,2367.3 844,2366.8 836.3,2366.2 828.6,2365.6 820.9,2365 813.2,2364.3 805.5,2363.6 797.9,2362.9 790.2,2362 782.5,2361.1 774.8,2359.9 767.1,2358.3 759.4,2356.5 751.7,2355.1 744,2353.8 736.3,2352.3 728.6,2350.7 720.9,2349.2 713.2,2348 705.5,2346.5 697.8,2344.3 690.1,2341.6 682.4,2338.1 674.8,2334.9 667.1,2331.4 659.4,2327.6 651.7,2323 644,2316.4 636.3,2310 628.6,2304.6 620.9,2300.3 613.2,2296.2 605.5,2291.2 597.8,2286.5 590.1,2282.5 582.4,2279.7 574.7,2277.7 567,2275.2 559.3,2273.1 551.6,2272.2 544,2271.8 536.3,2271.7 528.6,2271.7 520.9,2271.7 513.2,2271.5 505.5,2271 497.8,2270.4 490.1,2269.4 482.4,2267.2 474.7,2263.8 467,2259.4 459.3,2254.3 451.6,2250.5 443.9,2244.6 436.2,2243.4 428.5,2238.4 420.9,2233.6 413.2,2227.9 405.5,2220.8 397.8,2213.6 390.1,2207.2 382.4,2202.2 374.7,2199.8 367,2196.5 359.3,2194.8 351.6,2196.7 343.9,2202.3 336.2,2207.8 328.5,2218.8 320.8,2232.6 313.1,2251.3 305.4,2267.1 297.7,2278.2 290.1,2296.1 282.4,2307.2 274.7,2319.6 267,2334.8 259.3,2342.4 251.6,2347.9 243.9,2353.5 236.2,2358.4 228.5,2362.5 220.8,2365.2 213.1,2367.3 205.4,2369.2 197.7,2370.8 190,2372.2 182.3,2373.5 174.6,2374.6 166.9,2375.6 159.3,2376.8 151.6,2377.7 143.9,2378.1 136.2,2378.4 128.5,2379.2 120.8,2379.8 113.1,2379.8 105.4,2379.8 97.7,2379.8 90,2379.8"/>
<g fill="#fff" stroke="#0000ff" stroke-width="1.8" stroke-linejoin="miter">
<polygon points="982.5,2358.9 993.6,2378.1 971.4,2378.1"/>
<polygon points="974.8,2358.9 985.9,2378.1 963.7,2378.1"/>
<polygon points="967.1,2358.9 978.2,2378.1 956,2378.1"/>
<polygon points="959.4,2358.9 970.5,2378.1 948.3,2378.1"/>
<polygon points="951.7,2358.9 962.8,2378.1 940.7,2378.1"/>
<polygon points="944,2358.8 955.1,2378 933,2378"/>
<polygon points="936.3,2358.6 947.4,2377.8 925.3,2377.8"/>
<polygon points="928.7,2358.4 939.7,2377.6 917.6,2377.6"/>
<polygon points="921,2358.1 932,2377.3 909.9,2377.3"/>
<polygon points="913.3,2357.7 924.4,2376.9 902.2,2376.9"/>
<polygon points="905.6,2357.4 916.7,2376.6 894.5,2376.6"/>
<polygon points="897.9,2357 909,2376.2 886.8,2376.2"/>
<polygon points="890.2,2356.6 901.3,2375.8 879.1,2375.8"/>
<polygon points="882.5,2356.2 893.6,2375.4 871.4,2375.4"/>
<polygon points="874.8,2355.8 885.9,2375 863.7,2375"/>
<polygon points="867.1,2355.4 878.2,2374.6 856,2374.6"/>
<polygon points="859.4,2355 870.5,2374.2 848.3,2374.2"/>
<polygon points="851.7,2354.5 862.8,2373.7 840.6,2373.7"/>
<polygon points="844,2354 855.1,2373.2 832.9,2373.2"/>
<polygon points="836.3,2353.4 847.4,2372.6 825.2,2372.6"/>
<polygon points="828.6,2352.8 839.7,2372 817.5,2372"/>
<polygon points="820.9,2352.2 832,2371.4 809.9,2371.4"/>
<polygon points="813.2,2351.5 824.3,2370.7 802.2,2370.7"/>
<polygon points="805.5,2350.8 816.6,2370 794.5,2370"/>
<polygon points="797.9,2350.1 808.9,2369.3 786.8,2369.3"/>
<polygon points="790.2,2349.2 801.2,2368.4 779.1,2368.4"/>
<polygon points="782.5,2348.3 793.6,2367.5 771.4,2367.5"/>
<polygon points="774.8,2347.1 785.9,2366.3 763.7,2366.3"/>
<polygon points="767.1,2345.5 778.2,2364.7 756,2364.7"/>
<polygon points="759.4,2343.7 770.5,2362.9 748.3,2362.9"/>
<polygon points="751.7,2342.3 762.8,2361.5 740.6,2361.5"/>
<polygon points="744,2341 755.1,2360.2 732.9,2360.2"/>
<polygon points="736.3,2339.5 747.4,2358.7 725.2,2358.7"/>
<polygon points="728.6,2337.9 739.7,2357.1 717.5,2357.1"/>
<polygon points="720.9,2336.4 732,2355.6 709.8,2355.6"/>
<polygon points="713.2,2335.2 724.3,2354.4 702.1,2354.4"/>
<polygon points="705.5,2333.7 716.6,2352.9 694.4,2352.9"/>
<polygon points="697.8,2331.5 708.9,2350.7 686.7,2350.7"/>
<polygon points="690.1,2328.8 701.2,2348 679.1,2348"/>
<polygon points="682.4,2325.3 693.5,2344.5 671.4,2344.5"/>
<polygon points="674.8,2322.1 685.8,2341.3 663.7,2341.3"/>
<polygon points="667.1,2318.6 678.1,2337.8 656,2337.8"/>
<polygon points="659.4,2314.8 670.4,2334 648.3,2334"/>
<polygon points="651.7,2310.2 662.8,2329.4 640.6,2329.4"/>
<polygon points="644,2303.6 655.1,2322.8 632.9,2322.8"/>
<polygon points="636.3,2297.2 647.4,2316.4 625.2,2316.4"/>
<polygon points="628.6,2291.8 639.7,2311 617.5,2311"/>
<polygon points="620.9,2287.5 632,2306.7 609.8,2306.7"/>
<polygon points="613.2,2283.4 624.3,2302.6 602.1,2302.6"/>
<polygon points="605.5,2278.4 616.6,2297.6 594.4,2297.6"/>
<polygon points="597.8,2273.7 608.9,2292.9 586.7,2292.9"/>
<polygon points="590.1,2269.7 601.2,2288.9 579,2288.9"/>
<polygon points="582.4,2266.9 593.5,2286.1 571.3,2286.1"/>
<polygon points="574.7,2264.9 585.8,2284.1 563.6,2284.1"/>
<polygon points="567,2262.4 578.1,2281.6 556,2281.6"/>
<polygon points="559.3,2260.3 570.4,2279.5 548.3,2279.5"/>
<polygon points="551.6,2259.4 562.7,2278.6 540.6,2278.6"/>
<polygon points="544,2259 555,2278.2 532.9,2278.2"/>
<polygon points="536.3,2258.9 547.3,2278.1 525.2,2278.1"/>
<polygon points="528.6,2258.9 539.7,2278.1 517.5,2278.1"/>
<polygon points="520.9,2258.9 532,2278.1 509.8,2278.1"/>
<polygon points="513.2,2258.7 524.3,2277.9 502.1,2277.9"/>
<polygon points="505.5,2258.2 516.6,2277.4 494.4,2277.4"/>
<polygon points="497.8,2257.6 508.9,2276.8 486.7,2276.8"/>
<polygon points="490.1,2256.6 501.2,2275.8 479,2275.8"/>
<polygon points="482.4,2254.4 493.5,2273.6 471.3,2273.6"/>
<polygon points="474.7,2251 485.8,2270.2 463.6,2270.2"/>
<polygon points="467,2246.6 478.1,2265.8 455.9,2265.8"/>
<polygon points="459.3,2241.5 470.4,2260.7 448.2,2260.7"/>
<polygon points="451.6,2237.7 462.7,2256.9 440.5,2256.9"/>
<polygon points="443.9,2231.8 455,2251 432.8,2251"/>
<polygon points="436.2,2230.6 447.3,2249.8 425.2,2249.8"/>
<polygon points="428.5,2225.6 439.6,2244.8 417.5,2244.8"/>
<polygon points="420.9,2220.8 431.9,2240 409.8,2240"/>
<polygon points="413.2,2215.1 424.2,2234.3 402.1,2234.3"/>
<polygon points="405.5,2208 416.5,2227.2 394.4,2227.2"/>
<polygon points="397.8,2200.8 408.9,2220 386.7,2220"/>
<polygon points="390.1,2194.4 401.2,2213.6 379,2213.6"/>
<polygon points="382.4,2189.4 393.5,2208.6 371.3,2208.6"/>
<polygon points="374.7,2187 385.8,2206.2 363.6,2206.2"/>
<polygon points="367,2183.7 378.1,2202.9 355.9,2202.9"/>
<polygon points="359.3,2182 370.4,2201.2 348.2,2201.2"/>
<polygon points="351.6,2183.9 362.7,2203.1 340.5,2203.1"/>
<polygon points="343.9,2189.5 355,2208.7 332.8,2208.7"/>
<polygon points="336.2,2195 347.3,2214.2 325.1,2214.2"/>
<polygon points="328.5,2206 339.6,2225.2 317.4,2225.2"/>
<polygon points="320.8,2219.8 331.9,2239 309.7,2239"/>
<polygon points="313.1,2238.5 324.2,2257.7 302,2257.7"/>
<polygon points="305.4,2254.3 316.5,2273.5 294.4,2273.5"/>
<polygon points="297.7,2265.4 308.8,2284.6 286.7,2284.6"/>
<polygon points="290.1,2283.3 301.1,2302.5 279,2302.5"/>
<polygon points="282.4,2294.4 293.4,2313.6 271.3,2313.6"/>
<polygon points="274.7,2306.8 285.7,2326 263.6,2326"/>
<polygon points="267,2322 278.1,2341.2 255.9,2341.2"/>
<polygon points="259.3,2329.6 270.4,2348.8 248.2,2348.8"/>
<polygon points="251.6,2335.1 262.7,2354.3 240.5,2354.3"/>
<polygon points="243.9,2340.7 255,2359.9 232.8,2359.9"/>
<polygon points="236.2,2345.6 247.3,2364.8 225.1,2364.8"/>
<polygon points="228.5,2349.7 239.6,2368.9 217.4,2368.9"/>
<polygon points="220.8,2352.4 231.9,2371.6 209.7,2371.6"/>
<polygon points="213.1,2354.5 224.2,2373.7 202,2373.7"/>
<polygon points="205.4,2356.4 216.5,2375.6 194.3,2375.6"/>
<polygon points="197.7,2358 208.8,2377.2 186.6,2377.2"/>
<polygon points="190,2359.4 201.1,2378.6 178.9,2378.6"/>
<polygon points="182.3,2360.7 193.4,2379.9 171.3,2379.9"/>
<polygon points="174.6,2361.8 185.7,2381 163.6,2381"/>
<polygon points="166.9,2362.8 178,2382 155.9,2382"/>
<polygon points="159.3,2364 170.3,2383.2 148.2,2383.2"/>
<polygon points="151.6,2364.9 162.6,2384.1 140.5,2384.1"/>
<polygon points="143.9,2365.3 155,2384.5 132.8,2384.5"/>
<polygon points="136.2,2365.6 147.3,2384.8 125.1,2384.8"/>
<polygon points="128.5,2366.4 139.6,2385.6 117.4,2385.6"/>
<polygon points="120.8,2367 131.9,2386.2 109.7,2386.2"/>
<polygon points="113.1,2367 124.2,2386.2 102,2386.2"/>
<polygon points="105.4,2367 116.5,2386.2 94.3,2386.2"/>
<polygon points="97.7,2367 108.8,2386.2 86.6,2386.2"/>
<polygon points="90,2367 101.1,2386.2 78.9,2386.2"/>
</g>
<polyline fill="none" stroke="#ff00ff" stroke-width="1.7" points="982.5,2377.5 974.8,2377.5 967.1,2377.5 959.4,2377.5 951.7,2377.5 944,2377.5 936.3,2377.6 928.7,2377.6 921,2377.6 913.3,2377.6 905.6,2377.6 897.9,2377.6 890.2,2377.6 882.5,2377.7 874.8,2377.7 867.1,2377.7 859.4,2377.7 851.7,2377.8 844,2377.8 836.3,2377.8 828.6,2377.9 820.9,2377.9 813.2,2377.9 805.5,2378 797.9,2378 790.2,2378 782.5,2378.1 774.8,2378.1 767.1,2378.2 759.4,2378.2 751.7,2378.2 744,2378.3 736.3,2378.3 728.6,2378.4 720.9,2378.4 713.2,2378.4 705.5,2378.5 697.8,2378.5 690.1,2378.5 682.4,2378.6 674.8,2378.6 667.1,2378.7 659.4,2378.7 651.7,2378.7 644,2378.7 636.3,2378.8 628.6,2378.8 620.9,2378.8 613.2,2378.9 605.5,2378.9 597.8,2378.9 590.1,2378.9 582.4,2378.9 574.7,2378.9 567,2379 559.3,2379 551.6,2379 544,2379 536.3,2379 528.6,2379 520.9,2379 513.2,2379 505.5,2379 497.8,2379 490.1,2379 482.4,2379 474.7,2379 467,2379 459.3,2379 451.6,2379 443.9,2379 436.2,2379 428.5,2379 420.9,2379 413.2,2379 405.5,2379 397.8,2379 390.1,2379 382.4,2379 374.7,2379 367,2378.9 359.3,2378.9 351.6,2378.9 343.9,2378.9 336.2,2378.9 328.5,2378.9 320.8,2378.9 313.1,2378.9 305.4,2378.9 297.7,2378.9 290.1,2378.9 282.4,2378.9 274.7,2378.9 267,2378.9 259.3,2378.9 251.6,2378.9 243.9,2378.9 236.2,2378.9 228.5,2378.9 220.8,2378.9 213.1,2378.9 205.4,2378.9 197.7,2378.9 190,2378.9 182.3,2378.9 174.6,2378.9 166.9,2378.9 159.3,2378.9 151.6,2378.9 143.9,2378.9 136.2,2378.9 128.5,2378.9 120.8,2378.9 113.1,2378.9 105.4,2378.9 97.7,2378.9 90,2378.9"/>
<g fill="#fff" stroke="#ff00ff" stroke-width="1.8" stroke-linejoin="miter">
<polygon points="982.5,2390.3 993.6,2371.1 971.4,2371.1"/>
<polygon points="974.8,2390.3 985.9,2371.1 963.7,2371.1"/>
<polygon points="967.1,2390.3 978.2,2371.1 956,2371.1"/>
<polygon points="959.4,2390.3 970.5,2371.1 948.3,2371.1"/>
<polygon points="951.7,2390.3 962.8,2371.1 940.7,2371.1"/>
<polygon points="944,2390.3 955.1,2371.1 933,2371.1"/>
<polygon points="936.3,2390.4 947.4,2371.2 925.3,2371.2"/>
<polygon points="928.7,2390.4 939.7,2371.2 917.6,2371.2"/>
<polygon points="921,2390.4 932,2371.2 909.9,2371.2"/>
<polygon points="913.3,2390.4 924.4,2371.2 902.2,2371.2"/>
<polygon points="905.6,2390.4 916.7,2371.2 894.5,2371.2"/>
<polygon points="897.9,2390.4 909,2371.2 886.8,2371.2"/>
<polygon points="890.2,2390.4 901.3,2371.2 879.1,2371.2"/>
<polygon points="882.5,2390.5 893.6,2371.3 871.4,2371.3"/>
<polygon points="874.8,2390.5 885.9,2371.3 863.7,2371.3"/>
<polygon points="867.1,2390.5 878.2,2371.3 856,2371.3"/>
<polygon points="859.4,2390.5 870.5,2371.3 848.3,2371.3"/>
<polygon points="851.7,2390.6 862.8,2371.4 840.6,2371.4"/>
<polygon points="844,2390.6 855.1,2371.4 832.9,2371.4"/>
<polygon points="836.3,2390.6 847.4,2371.4 825.2,2371.4"/>
<polygon points="828.6,2390.7 839.7,2371.5 817.5,2371.5"/>
<polygon points="820.9,2390.7 832,2371.5 809.9,2371.5"/>
<polygon points="813.2,2390.7 824.3,2371.5 802.2,2371.5"/>
<polygon points="805.5,2390.8 816.6,2371.6 794.5,2371.6"/>
<polygon points="797.9,2390.8 808.9,2371.6 786.8,2371.6"/>
<polygon points="790.2,2390.8 801.2,2371.6 779.1,2371.6"/>
<polygon points="782.5,2390.9 793.6,2371.7 771.4,2371.7"/>
<polygon points="774.8,2390.9 785.9,2371.7 763.7,2371.7"/>
<polygon points="767.1,2391 778.2,2371.8 756,2371.8"/>
<polygon points="759.4,2391 770.5,2371.8 748.3,2371.8"/>
<polygon points="751.7,2391 762.8,2371.8 740.6,2371.8"/>
<polygon points="744,2391.1 755.1,2371.9 732.9,2371.9"/>
<polygon points="736.3,2391.1 747.4,2371.9 725.2,2371.9"/>
<polygon points="728.6,2391.2 739.7,2372 717.5,2372"/>
<polygon points="720.9,2391.2 732,2372 709.8,2372"/>
<polygon points="713.2,2391.2 724.3,2372 702.1,2372"/>
<polygon points="705.5,2391.3 716.6,2372.1 694.4,2372.1"/>
<polygon points="697.8,2391.3 708.9,2372.1 686.7,2372.1"/>
<polygon points="690.1,2391.3 701.2,2372.1 679.1,2372.1"/>
<polygon points="682.4,2391.4 693.5,2372.2 671.4,2372.2"/>
<polygon points="674.8,2391.4 685.8,2372.2 663.7,2372.2"/>
<polygon points="667.1,2391.5 678.1,2372.3 656,2372.3"/>
<polygon points="659.4,2391.5 670.4,2372.3 648.3,2372.3"/>
<polygon points="651.7,2391.5 662.8,2372.3 640.6,2372.3"/>
<polygon points="644,2391.5 655.1,2372.3 632.9,2372.3"/>
<polygon points="636.3,2391.6 647.4,2372.4 625.2,2372.4"/>
<polygon points="628.6,2391.6 639.7,2372.4 617.5,2372.4"/>
<polygon points="620.9,2391.6 632,2372.4 609.8,2372.4"/>
<polygon points="613.2,2391.7 624.3,2372.5 602.1,2372.5"/>
<polygon points="605.5,2391.7 616.6,2372.5 594.4,2372.5"/>
<polygon points="597.8,2391.7 608.9,2372.5 586.7,2372.5"/>
<polygon points="590.1,2391.7 601.2,2372.5 579,2372.5"/>
<polygon points="582.4,2391.7 593.5,2372.5 571.3,2372.5"/>
<polygon points="574.7,2391.7 585.8,2372.5 563.6,2372.5"/>
<polygon points="567,2391.8 578.1,2372.6 556,2372.6"/>
<polygon points="559.3,2391.8 570.4,2372.6 548.3,2372.6"/>
<polygon points="551.6,2391.8 562.7,2372.6 540.6,2372.6"/>
<polygon points="544,2391.8 555,2372.6 532.9,2372.6"/>
<polygon points="536.3,2391.8 547.3,2372.6 525.2,2372.6"/>
<polygon points="528.6,2391.8 539.7,2372.6 517.5,2372.6"/>
<polygon points="520.9,2391.8 532,2372.6 509.8,2372.6"/>
<polygon points="513.2,2391.8 524.3,2372.6 502.1,2372.6"/>
<polygon points="505.5,2391.8 516.6,2372.6 494.4,2372.6"/>
<polygon points="497.8,2391.8 508.9,2372.6 486.7,2372.6"/>
<polygon points="490.1,2391.8 501.2,2372.6 479,2372.6"/>
<polygon points="482.4,2391.8 493.5,2372.6 471.3,2372.6"/>
<polygon points="474.7,2391.8 485.8,2372.6 463.6,2372.6"/>
<polygon points="467,2391.8 478.1,2372.6 455.9,2372.6"/>
<polygon points="459.3,2391.8 470.4,2372.6 448.2,2372.6"/>
<polygon points="451.6,2391.8 462.7,2372.6 440.5,2372.6"/>
<polygon points="443.9,2391.8 455,2372.6 432.8,2372.6"/>
<polygon points="436.2,2391.8 447.3,2372.6 425.2,2372.6"/>
<polygon points="428.5,2391.8 439.6,2372.6 417.5,2372.6"/>
<polygon points="420.9,2391.8 431.9,2372.6 409.8,2372.6"/>
<polygon points="413.2,2391.8 424.2,2372.6 402.1,2372.6"/>
<polygon points="405.5,2391.8 416.5,2372.6 394.4,2372.6"/>
<polygon points="397.8,2391.8 408.9,2372.6 386.7,2372.6"/>
<polygon points="390.1,2391.8 401.2,2372.6 379,2372.6"/>
<polygon points="382.4,2391.8 393.5,2372.6 371.3,2372.6"/>
<polygon points="374.7,2391.8 385.8,2372.6 363.6,2372.6"/>
<polygon points="367,2391.7 378.1,2372.5 355.9,2372.5"/>
<polygon points="359.3,2391.7 370.4,2372.5 348.2,2372.5"/>
<polygon points="351.6,2391.7 362.7,2372.5 340.5,2372.5"/>
<polygon points="343.9,2391.7 355,2372.5 332.8,2372.5"/>
<polygon points="336.2,2391.7 347.3,2372.5 325.1,2372.5"/>
<polygon points="328.5,2391.7 339.6,2372.5 317.4,2372.5"/>
<polygon points="320.8,2391.7 331.9,2372.5 309.7,2372.5"/>
<polygon points="313.1,2391.7 324.2,2372.5 302,2372.5"/>
<polygon points="305.4,2391.7 316.5,2372.5 294.4,2372.5"/>
<polygon points="297.7,2391.7 308.8,2372.5 286.7,2372.5"/>
<polygon points="290.1,2391.7 301.1,2372.5 279,2372.5"/>
<polygon points="282.4,2391.7 293.4,2372.5 271.3,2372.5"/>
<polygon points="274.7,2391.7 285.7,2372.5 263.6,2372.5"/>
<polygon points="267,2391.7 278.1,2372.5 255.9,2372.5"/>
<polygon points="259.3,2391.7 270.4,2372.5 248.2,2372.5"/>
<polygon points="251.6,2391.7 262.7,2372.5 240.5,2372.5"/>
<polygon points="243.9,2391.7 255,2372.5 232.8,2372.5"/>
<polygon points="236.2,2391.7 247.3,2372.5 225.1,2372.5"/>
<polygon points="228.5,2391.7 239.6,2372.5 217.4,2372.5"/>
<polygon points="220.8,2391.7 231.9,2372.5 209.7,2372.5"/>
<polygon points="213.1,2391.7 224.2,2372.5 202,2372.5"/>
<polygon points="205.4,2391.7 216.5,2372.5 194.3,2372.5"/>
<polygon points="197.7,2391.7 208.8,2372.5 186.6,2372.5"/>
<polygon points="190,2391.7 201.1,2372.5 178.9,2372.5"/>
<polygon points="182.3,2391.7 193.4,2372.5 171.3,2372.5"/>
<polygon points="174.6,2391.7 185.7,2372.5 163.6,2372.5"/>
<polygon points="166.9,2391.7 178,2372.5 155.9,2372.5"/>
<polygon points="159.3,2391.7 170.3,2372.5 148.2,2372.5"/>
<polygon points="151.6,2391.7 162.6,2372.5 140.5,2372.5"/>
<polygon points="143.9,2391.7 155,2372.5 132.8,2372.5"/>
<polygon points="136.2,2391.7 147.3,2372.5 125.1,2372.5"/>
<polygon points="128.5,2391.7 139.6,2372.5 117.4,2372.5"/>
<polygon points="120.8,2391.7 131.9,2372.5 109.7,2372.5"/>
<polygon points="113.1,2391.7 124.2,2372.5 102,2372.5"/>
<polygon points="105.4,2391.7 116.5,2372.5 94.3,2372.5"/>
<polygon points="97.7,2391.7 108.8,2372.5 86.6,2372.5"/>
<polygon points="90,2391.7 101.1,2372.5 78.9,2372.5"/>
</g>
</g>
<line x1="359.9" y1="1850" x2="359.9" y2="2418" stroke="#5a5a5a" stroke-width="1.8" stroke-dasharray="1.5 4.26"/>
<line x1="570.8" y1="2071" x2="570.8" y2="2418" stroke="#5a5a5a" stroke-width="1.8" stroke-dasharray="1.5 4.26"/>
<path d="M113.5 1792.5 V2419.5 H959.5 V1792.5 Z" fill="none" stroke="#000" stroke-width="3" stroke-linejoin="miter"/>
<text x="99.6" y="2426.6" font-size="31.3" text-anchor="end" textLength="37.4" lengthAdjust="spacingAndGlyphs">0.0</text>
<line x1="113.5" y1="2239.7" x2="127.5" y2="2239.7" stroke="#000" stroke-width="3"/>
<text x="99.6" y="2247.3" font-size="31.3" text-anchor="end" textLength="37.4" lengthAdjust="spacingAndGlyphs">0.2</text>
<line x1="113.5" y1="2060.1" x2="127.5" y2="2060.1" stroke="#000" stroke-width="3"/>
<text x="99.6" y="2067.7" font-size="31.3" text-anchor="end" textLength="37.4" lengthAdjust="spacingAndGlyphs">0.4</text>
<line x1="113.5" y1="1880.5" x2="127.5" y2="1880.5" stroke="#000" stroke-width="3"/>
<text x="99.6" y="1888.1" font-size="31.3" text-anchor="end" textLength="37.4" lengthAdjust="spacingAndGlyphs">0.6</text>
<line x1="229.5" y1="2419.5" x2="229.5" y2="2405.5" stroke="#000" stroke-width="3"/>
<text x="229.5" y="2455.8" font-size="32.5" text-anchor="middle">700</text>
<line x1="421.9" y1="2419.5" x2="421.9" y2="2405.5" stroke="#000" stroke-width="3"/>
<text x="421.9" y="2455.8" font-size="32.5" text-anchor="middle">650</text>
<line x1="614.2" y1="2419.5" x2="614.2" y2="2405.5" stroke="#000" stroke-width="3"/>
<text x="614.2" y="2455.8" font-size="32.5" text-anchor="middle">600</text>
<line x1="806.5" y1="2419.5" x2="806.5" y2="2405.5" stroke="#000" stroke-width="3"/>
<text x="806.5" y="2455.8" font-size="32.5" text-anchor="middle">550</text>
<text x="358.3" y="1834" font-size="32.5" text-anchor="middle">664</text>
<text x="569.6" y="2050" font-size="32.5" text-anchor="middle">612</text>
<text x="536.8" y="2516.2" font-size="34.5" font-weight="bold" text-anchor="middle" letter-spacing="0.55">Wavelength (nm)</text>
<text transform="translate(39.6 2125) rotate(-90)" x="0.3" y="0" font-size="35" font-weight="bold" text-anchor="middle" letter-spacing="0.55">Absorbance (arb. unit)</text>
<text x="510.9" y="2582.8" font-size="48.5" text-anchor="middle">(<tspan font-weight="bold">c</tspan>)</text>
<rect x="469.5" y="1736.9" width="537.9" height="177.1" fill="none" stroke="#555" stroke-width="1.5"/>
<line x1="481.3" y1="1763.3" x2="556.7" y2="1763.3" stroke="#000000" stroke-width="1.4"/>
<g fill="#fff" stroke="#000000" stroke-width="1.8"><rect x="509.4" y="1755.3" width="16.8" height="16"/></g>
<text x="563.5" y="1774" font-size="35.7">MB Solution</text>
<line x1="481.3" y1="1808.6" x2="556.7" y2="1808.6" stroke="#ff0000" stroke-width="1.4"/>
<g fill="#fff" stroke="#ff0000" stroke-width="1.8"><polygon points="526.8,1812.3 521.5,1817.6 514.1,1817.6 508.8,1812.3 508.8,1804.9 514.1,1799.6 521.5,1799.6 526.8,1804.9"/></g>
<text x="563.5" y="1819.5" font-size="35.7">Untreated TN_2h</text>
<line x1="481.3" y1="1852.9" x2="556.7" y2="1852.9" stroke="#0000ff" stroke-width="1.4"/>
<g fill="#fff" stroke="#0000ff" stroke-width="1.8"><polygon points="517.8,1840.1 528.9,1859.3 506.7,1859.3"/></g>
<text x="563.5" y="1863.3" font-size="35.7">10 mol/L-KOH treated TN_2h</text>
<line x1="481.3" y1="1894.1" x2="556.7" y2="1894.1" stroke="#ff00ff" stroke-width="1.4"/>
<g fill="#fff" stroke="#ff00ff" stroke-width="1.8"><polygon points="517.8,1906.9 528.9,1887.7 506.7,1887.7"/></g>
<text x="563.5" y="1904.7" font-size="32.5">Blank</text>
</svg>
</body></html>
